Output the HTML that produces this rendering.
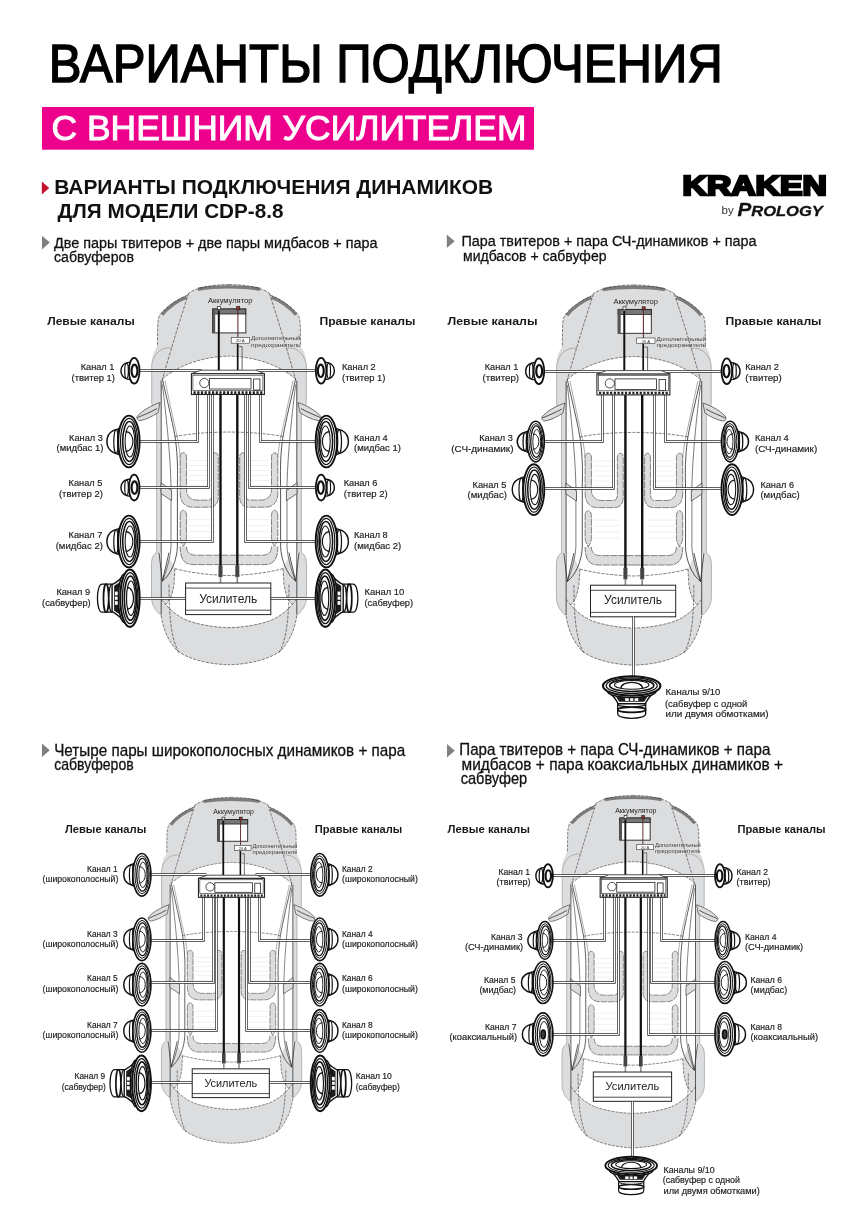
<!DOCTYPE html>
<html lang="ru"><head><meta charset="utf-8"><title>Варианты подключения</title>
<style>
html,body{margin:0;padding:0;background:#fff;}
body{width:868px;height:1228px;overflow:hidden;position:relative;font-family:"Liberation Sans",sans-serif;}
svg{position:absolute;left:0;top:0;display:block;will-change:transform;}
text{font-family:"Liberation Sans",sans-serif;fill:#111;}
.b{font-weight:bold;}
.sh{font-size:15.4px;stroke:#111;stroke-width:0.3px;}
.lb{font-size:9.8px;fill:#1c1c1c;stroke:#1c1c1c;stroke-width:0.18px;}
.ch{font-size:11.6px;font-weight:bold;fill:#1a1a1a;}
</style></head><body>
<svg width="868" height="1228" viewBox="0 0 868 1228">
<text x="48.8" y="81.8" style="font-size:54.5px;fill:#000;stroke:#000;stroke-width:1.5px;" textLength="674" lengthAdjust="spacingAndGlyphs">ВАРИАНТЫ ПОДКЛЮЧЕНИЯ</text>
<rect x="42" y="107" width="492" height="42.7" fill="#ec008c"/>
<text x="51.5" y="140" style="font-size:35.8px;fill:#fff;stroke:#fff;stroke-width:1.0px;" textLength="475" lengthAdjust="spacingAndGlyphs">С ВНЕШНИМ УСИЛИТЕЛЕМ</text>
<path d="M41.8 181.6 L49.2 188 L41.8 194.4 Z" fill="#c4122f"/>
<text x="54.2" y="194.2" class="b" style="font-size:20.3px;" textLength="439" lengthAdjust="spacingAndGlyphs">ВАРИАНТЫ ПОДКЛЮЧЕНИЯ ДИНАМИКОВ</text>
<text x="57.5" y="217.5" class="b" style="font-size:20.3px;" textLength="226" lengthAdjust="spacingAndGlyphs">ДЛЯ МОДЕЛИ CDP-8.8</text>
<text x="682.6" y="195.2" class="b" style="font-size:27px;fill:#000;stroke:#000;stroke-width:2.4px;stroke-linejoin:miter;" textLength="144.2" lengthAdjust="spacingAndGlyphs">KRAKEN</text>
<text x="721.6" y="214" style="font-size:11.5px;fill:#333;">by</text>
<text x="737.4" y="216.2" style="font-size:15.2px;fill:#111;font-style:italic;font-weight:bold;stroke:#111;stroke-width:0.3px;" textLength="85.5" lengthAdjust="spacingAndGlyphs"><tspan style="font-size:19px">P</tspan>ROLOGY</text>
<path d="M42 235.8 L49.8 242.60000000000002 L42 249.4 Z" fill="#808080"/>
<text x="54" y="247.5" class="sh" textLength="323.5" lengthAdjust="spacingAndGlyphs">Две пары твитеров + две пары мидбасов + пара</text>
<text x="54" y="262" class="sh" textLength="80" lengthAdjust="spacingAndGlyphs">сабвуферов</text>
<path d="M446.8 234.5 L454.6 241.3 L446.8 248.1 Z" fill="#808080"/>
<text x="461.5" y="246" class="sh" textLength="295" lengthAdjust="spacingAndGlyphs">Пара твитеров + пара СЧ-динамиков + пара</text>
<text x="463" y="260.5" class="sh" textLength="143.5" lengthAdjust="spacingAndGlyphs">мидбасов + сабвуфер</text>
<path d="M42 743.5 L49.8 750.3 L42 757.1 Z" fill="#808080"/>
<text x="54.2" y="755.6" class="sh" style="font-size:16.2px;" textLength="351" lengthAdjust="spacingAndGlyphs">Четыре пары широкополосных динамиков + пара</text>
<text x="54.2" y="769.8" class="sh" style="font-size:16.2px;" textLength="79.5" lengthAdjust="spacingAndGlyphs">сабвуферов</text>
<path d="M447 744 L454.8 750.8 L447 757.6 Z" fill="#808080"/>
<text x="459.3" y="754.8" class="sh" style="font-size:16.2px;" textLength="311" lengthAdjust="spacingAndGlyphs">Пара твитеров + пара СЧ-динамиков + пара</text>
<text x="461.6" y="769.6" class="sh" style="font-size:16.2px;" textLength="321.5" lengthAdjust="spacingAndGlyphs">мидбасов + пара коаксиальных динамиков +</text>
<text x="460.7" y="784.3" class="sh" style="font-size:16.2px;" textLength="66.5" lengthAdjust="spacingAndGlyphs">сабвуфер</text>
<text x="47.2" y="325.1" class="ch" textLength="87.5" lengthAdjust="spacingAndGlyphs">Левые каналы</text>
<text x="319.4" y="325.1" class="ch" textLength="96" lengthAdjust="spacingAndGlyphs">Правые каналы</text>
<g transform="translate(229 284.6) scale(1.0 1.0)"><path d="M0 0 C-14 0 -30 2 -40.2 8.3 L-41.5 10.6 C-50 13.6 -62 21 -68.8 29.8 C-70.6 32.5 -71.2 36 -71.3 42 L-71.6 62 C-75 66 -77.3 72 -77.3 80 L-77.3 118 C-77.3 122 -75 124 -72.4 125 L-72.4 268 C-76 270 -77.5 274 -77.5 280 L-77.5 312 C-77.5 322 -72 327 -67.8 331 C-66 343 -62 355 -52 366 C-40 375 -20 379.6 0 380.2  L0.4 380.2 L0.4 0 Z" fill="#dcdddf" stroke="none"/><g transform="scale(-1,1)"><path d="M0 0 C-14 0 -30 2 -40.2 8.3 L-41.5 10.6 C-50 13.6 -62 21 -68.8 29.8 C-70.6 32.5 -71.2 36 -71.3 42 L-71.6 62 C-75 66 -77.3 72 -77.3 80 L-77.3 118 C-77.3 122 -75 124 -72.4 125 L-72.4 268 C-76 270 -77.5 274 -77.5 280 L-77.5 312 C-77.5 322 -72 327 -67.8 331 C-66 343 -62 355 -52 366 C-40 375 -20 379.6 0 380.2  L0.4 380.2 L0.4 0 Z" fill="#dcdddf" stroke="none"/></g><path d="M0 71.5 C-25 72 -50 80 -66.6 94.5 L-67.8 125 L-67.8 268 L-70 268 L-66.6 296 L-60 272 L-54 284 C-40 288 -20 290.5 0 291 L0.4 291 L0.4 71.5 Z" fill="#fff"/><g transform="scale(-1,1)"><path d="M0 71.5 C-25 72 -50 80 -66.6 94.5 L-67.8 125 L-67.8 268 L-70 268 L-66.6 296 L-60 272 L-54 284 C-40 288 -20 290.5 0 291 L0.4 291 L0.4 71.5 Z" fill="#fff"/></g><path d="M0 291 C-20 290.5 -40 288 -54 284 L-55 300 C-57 312 -60 318 -64 320 L-67.8 314.4 C-60 325 -50 333 -40 336.5 C-28 340.5 -12 343 0 343 L0.4 343 L0.4 291 Z" fill="#fff"/><g transform="scale(-1,1)"><path d="M0 291 C-20 290.5 -40 288 -54 284 L-55 300 C-57 312 -60 318 -64 320 L-67.8 314.4 C-60 325 -50 333 -40 336.5 C-28 340.5 -12 343 0 343 L0.4 343 L0.4 291 Z" fill="#fff"/></g><path d="M-70 268 L-66.6 296.5 L-60 268 Z" fill="#fff"/><g transform="scale(-1,1)"><path d="M-70 268 L-66.6 296.5 L-60 268 Z" fill="#fff"/></g><path d="M-67 30.2 C-61 22.3 -50 15.4 -42.5 12.6" fill="none" stroke="#7c7c7c" stroke-width="3.2"/><path d="M-31 4.6 C-20 2.7 -10 2.3 0.3 2.3" fill="none" stroke="#7c7c7c" stroke-width="3.4"/><g transform="scale(-1,1)"><path d="M-67 30.2 C-61 22.3 -50 15.4 -42.5 12.6" fill="none" stroke="#7c7c7c" stroke-width="3.2"/><path d="M-31 4.6 C-20 2.7 -10 2.3 0.3 2.3" fill="none" stroke="#7c7c7c" stroke-width="3.4"/></g><path d="M0 0 C-14 0 -30 2 -40.2 8.3 L-41.5 10.6 C-50 13.6 -62 21 -68.8 29.8 C-70.6 32.5 -71.2 36 -71.3 42 L-71.6 62" fill="none" stroke="#1e1e1e" stroke-width="0.55" stroke-dasharray="3.2 1.2"/><path d="M-57 63.4 C-66 62.5 -74 66 -77.3 80" fill="none" stroke="#8a8a8a" stroke-width="0.6"/><path d="M-77.3 80 L-77.3 118 C-77.3 122 -75 124 -72.4 125 L-72.4 268" fill="none" stroke="#8a8a8a" stroke-width="0.6"/><path d="M-67.8 96 L-67.8 330" fill="none" stroke="#2a2a2a" stroke-width="0.8"/><path d="M-40.5 9 C-49 35 -58 65 -66.6 94.5" fill="none" stroke="#1e1e1e" stroke-width="0.55" stroke-dasharray="3.2 1.2"/><path d="M-66.6 94.5 C-50 80 -25 72 0 71.5" fill="none" stroke="#1e1e1e" stroke-width="0.55" stroke-dasharray="3.2 1.2"/><path d="M-66.6 94.5 C-62 115 -57 135 -54 152 C-52 165 -51 180 -51.6 200 L-51.6 262 C-52 275 -58 290 -66.6 296.5" fill="none" stroke="#2a2a2a" stroke-width="0.8"/><path d="M-64 96 C-60 115 -55 138 -51 156 C-48.5 170 -47.5 185 -47.5 200" fill="none" stroke="#666" stroke-width="0.55"/><path d="M-66.6 100 C-63 130 -59 165 -58 200 L-58 262 C-58.5 272 -62 285 -66.6 296.5" fill="none" stroke="#333" stroke-width="0.65"/><path d="M-54 152 C-40 149 -20 147.6 0 147.4" fill="none" stroke="#1e1e1e" stroke-width="0.55" stroke-dasharray="3.2 1.2"/><path d="M-68 198 L-57.4 206 L-57.4 216 L-68 209 Z" fill="#dcdddf" stroke="#3a3a3a" stroke-width="0.7"/><path d="M-72.4 268 C-76 270 -77.5 274 -77.5 280 L-77.5 312 C-77.5 322 -72 327 -67.8 331" fill="none" stroke="#8a8a8a" stroke-width="0.6"/><path d="M-67.8 331 C-66 343 -62 355 -52 366 C-40 375 -20 379.6 0 380.2" fill="none" stroke="#1e1e1e" stroke-width="0.55" stroke-dasharray="3.2 1.2"/><path d="M-60 300 C-60 330 -58 355 -50 368" fill="none" stroke="#1e1e1e" stroke-width="0.55" stroke-dasharray="3.2 1.2"/><path d="M-67.8 314.4 C-60 325 -50 333 -40 336.5 C-28 340.5 -12 343 0 343" fill="none" stroke="#1e1e1e" stroke-width="0.55" stroke-dasharray="3.2 1.2"/><path d="M-54 284 C-40 288 -20 290.5 0 291" fill="none" stroke="#1e1e1e" stroke-width="0.55" stroke-dasharray="3.2 1.2"/><path d="M-70 268 L-66.6 296.5 L-60 268" fill="none" stroke="#2a2a2a" stroke-width="0.8"/><path d="M-54 284 L-55 300 C-57 312 -60 318 -64 320" fill="none" stroke="#1e1e1e" stroke-width="0.55" stroke-dasharray="3.2 1.2"/><path d="M-69 118 C-78 121 -87 126 -92 132 C-92.5 134.5 -91 136 -89 136 C-83 135 -77 132 -71 128 Z" fill="#dcdddf" stroke="#3a3a3a" stroke-width="0.7"/><path d="M-91.5 133 C-85 130 -79 128 -72 124" fill="none" stroke="#2a2a2a" stroke-width="0.8"/><path d="M-48.8 172 C-48.8 167 -42.5 167 -42.5 172 L-42.5 205 C-42.5 212 -38 215.5 -32 215.5 L-21 215.5 C-17.5 215.5 -16.5 213 -16.5 208 L-16.5 172 C-16.5 167 -10.7 167 -10.7 172 L-10.7 212 C-10.7 219 -14 222.6 -20 222.6 L-36 222.6 C-44 222.6 -48.8 218 -48.8 208 Z" fill="#dcdddf" stroke="#3a3a3a" stroke-width="0.6" stroke-dasharray="7 1"/><path d="M-48.8 231 C-48.8 224 -42.5 224 -42.5 231 L-42.5 252 C-42.5 257 -44 259 -45.6 262 C-47 259 -48.8 257 -48.8 252 Z" fill="#dcdddf" stroke="#3a3a3a" stroke-width="0.6" stroke-dasharray="7 1"/><path d="M-48.8 262 L-42.5 262 C-42.5 268 -39 270.6 -33 270.6 L0.4 270.6 L0.4 280 L-36 280 C-44 280 -48.8 275 -48.8 268 Z" fill="#dcdddf" stroke="none"/><path d="M-42.5 262 C-42.5 268 -39 270.6 -33 270.6 L0 270.6 M0 280 L-36 280 C-44 280 -48.8 275 -48.8 262" fill="none" stroke="#3a3a3a" stroke-width="0.6" stroke-dasharray="7 1"/><path d="M-40 176 L-18 176 M-40 181 L-18 181 M-40 186 L-18 186 M-40 191 L-18 191 M-40 196 L-18 196 M-40 201 L-18 201 M-40 235 L-14 235 M-40 241 L-14 241 M-40 247 L-14 247 M-40 253 L-14 253" fill="none" stroke="#e4e4e4" stroke-width="0.6"/><g transform="scale(-1,1)"><path d="M0 0 C-14 0 -30 2 -40.2 8.3 L-41.5 10.6 C-50 13.6 -62 21 -68.8 29.8 C-70.6 32.5 -71.2 36 -71.3 42 L-71.6 62" fill="none" stroke="#1e1e1e" stroke-width="0.55" stroke-dasharray="3.2 1.2"/><path d="M-57 63.4 C-66 62.5 -74 66 -77.3 80" fill="none" stroke="#8a8a8a" stroke-width="0.6"/><path d="M-77.3 80 L-77.3 118 C-77.3 122 -75 124 -72.4 125 L-72.4 268" fill="none" stroke="#8a8a8a" stroke-width="0.6"/><path d="M-67.8 96 L-67.8 330" fill="none" stroke="#2a2a2a" stroke-width="0.8"/><path d="M-40.5 9 C-49 35 -58 65 -66.6 94.5" fill="none" stroke="#1e1e1e" stroke-width="0.55" stroke-dasharray="3.2 1.2"/><path d="M-66.6 94.5 C-50 80 -25 72 0 71.5" fill="none" stroke="#1e1e1e" stroke-width="0.55" stroke-dasharray="3.2 1.2"/><path d="M-66.6 94.5 C-62 115 -57 135 -54 152 C-52 165 -51 180 -51.6 200 L-51.6 262 C-52 275 -58 290 -66.6 296.5" fill="none" stroke="#2a2a2a" stroke-width="0.8"/><path d="M-64 96 C-60 115 -55 138 -51 156 C-48.5 170 -47.5 185 -47.5 200" fill="none" stroke="#666" stroke-width="0.55"/><path d="M-66.6 100 C-63 130 -59 165 -58 200 L-58 262 C-58.5 272 -62 285 -66.6 296.5" fill="none" stroke="#333" stroke-width="0.65"/><path d="M-54 152 C-40 149 -20 147.6 0 147.4" fill="none" stroke="#1e1e1e" stroke-width="0.55" stroke-dasharray="3.2 1.2"/><path d="M-68 198 L-57.4 206 L-57.4 216 L-68 209 Z" fill="#dcdddf" stroke="#3a3a3a" stroke-width="0.7"/><path d="M-72.4 268 C-76 270 -77.5 274 -77.5 280 L-77.5 312 C-77.5 322 -72 327 -67.8 331" fill="none" stroke="#8a8a8a" stroke-width="0.6"/><path d="M-67.8 331 C-66 343 -62 355 -52 366 C-40 375 -20 379.6 0 380.2" fill="none" stroke="#1e1e1e" stroke-width="0.55" stroke-dasharray="3.2 1.2"/><path d="M-60 300 C-60 330 -58 355 -50 368" fill="none" stroke="#1e1e1e" stroke-width="0.55" stroke-dasharray="3.2 1.2"/><path d="M-67.8 314.4 C-60 325 -50 333 -40 336.5 C-28 340.5 -12 343 0 343" fill="none" stroke="#1e1e1e" stroke-width="0.55" stroke-dasharray="3.2 1.2"/><path d="M-54 284 C-40 288 -20 290.5 0 291" fill="none" stroke="#1e1e1e" stroke-width="0.55" stroke-dasharray="3.2 1.2"/><path d="M-70 268 L-66.6 296.5 L-60 268" fill="none" stroke="#2a2a2a" stroke-width="0.8"/><path d="M-54 284 L-55 300 C-57 312 -60 318 -64 320" fill="none" stroke="#1e1e1e" stroke-width="0.55" stroke-dasharray="3.2 1.2"/><path d="M-69 118 C-78 121 -87 126 -92 132 C-92.5 134.5 -91 136 -89 136 C-83 135 -77 132 -71 128 Z" fill="#dcdddf" stroke="#3a3a3a" stroke-width="0.7"/><path d="M-91.5 133 C-85 130 -79 128 -72 124" fill="none" stroke="#2a2a2a" stroke-width="0.8"/><path d="M-48.8 172 C-48.8 167 -42.5 167 -42.5 172 L-42.5 205 C-42.5 212 -38 215.5 -32 215.5 L-21 215.5 C-17.5 215.5 -16.5 213 -16.5 208 L-16.5 172 C-16.5 167 -10.7 167 -10.7 172 L-10.7 212 C-10.7 219 -14 222.6 -20 222.6 L-36 222.6 C-44 222.6 -48.8 218 -48.8 208 Z" fill="#dcdddf" stroke="#3a3a3a" stroke-width="0.6" stroke-dasharray="7 1"/><path d="M-48.8 231 C-48.8 224 -42.5 224 -42.5 231 L-42.5 252 C-42.5 257 -44 259 -45.6 262 C-47 259 -48.8 257 -48.8 252 Z" fill="#dcdddf" stroke="#3a3a3a" stroke-width="0.6" stroke-dasharray="7 1"/><path d="M-48.8 262 L-42.5 262 C-42.5 268 -39 270.6 -33 270.6 L0.4 270.6 L0.4 280 L-36 280 C-44 280 -48.8 275 -48.8 268 Z" fill="#dcdddf" stroke="none"/><path d="M-42.5 262 C-42.5 268 -39 270.6 -33 270.6 L0 270.6 M0 280 L-36 280 C-44 280 -48.8 275 -48.8 262" fill="none" stroke="#3a3a3a" stroke-width="0.6" stroke-dasharray="7 1"/><path d="M-40 176 L-18 176 M-40 181 L-18 181 M-40 186 L-18 186 M-40 191 L-18 191 M-40 196 L-18 196 M-40 201 L-18 201 M-40 235 L-14 235 M-40 241 L-14 241 M-40 247 L-14 247 M-40 253 L-14 253" fill="none" stroke="#e4e4e4" stroke-width="0.6"/></g></g>
<path d="M139.5 370.5 L201.5 370.5" fill="none" stroke="#2e2e2e" stroke-width="2.4"/><path d="M139.5 370.5 L201.5 370.5" fill="none" stroke="#fff" stroke-width="1"/>
<path d="M139.5 441.5 L197.5 441.5 L197.5 394.5" fill="none" stroke="#2e2e2e" stroke-width="2.4"/><path d="M139.5 441.5 L197.5 441.5 L197.5 394.5" fill="none" stroke="#fff" stroke-width="1"/>
<path d="M139.5 487.5 L208.5 487.5 L208.5 394.5" fill="none" stroke="#2e2e2e" stroke-width="2.4"/><path d="M139.5 487.5 L208.5 487.5 L208.5 394.5" fill="none" stroke="#fff" stroke-width="1"/>
<path d="M139.5 541.5 L212.5 541.5 L212.5 394.5" fill="none" stroke="#2e2e2e" stroke-width="2.4"/><path d="M139.5 541.5 L212.5 541.5 L212.5 394.5" fill="none" stroke="#fff" stroke-width="1"/>
<path d="M139.5 598.5 L185.5 598.5" fill="none" stroke="#2e2e2e" stroke-width="2.4"/><path d="M139.5 598.5 L185.5 598.5" fill="none" stroke="#fff" stroke-width="1"/>
<path d="M315.5 370.5 L256.5 370.5" fill="none" stroke="#2e2e2e" stroke-width="2.4"/><path d="M315.5 370.5 L256.5 370.5" fill="none" stroke="#fff" stroke-width="1"/>
<path d="M315.5 441.5 L260.5 441.5 L260.5 394.5" fill="none" stroke="#2e2e2e" stroke-width="2.4"/><path d="M315.5 441.5 L260.5 441.5 L260.5 394.5" fill="none" stroke="#fff" stroke-width="1"/>
<path d="M315.5 487.5 L249.5 487.5 L249.5 394.5" fill="none" stroke="#2e2e2e" stroke-width="2.4"/><path d="M315.5 487.5 L249.5 487.5 L249.5 394.5" fill="none" stroke="#fff" stroke-width="1"/>
<path d="M315.5 541.5 L245.5 541.5 L245.5 394.5" fill="none" stroke="#2e2e2e" stroke-width="2.4"/><path d="M315.5 541.5 L245.5 541.5 L245.5 394.5" fill="none" stroke="#fff" stroke-width="1"/>
<path d="M315.5 598.5 L270.5 598.5" fill="none" stroke="#2e2e2e" stroke-width="2.4"/><path d="M315.5 598.5 L270.5 598.5" fill="none" stroke="#fff" stroke-width="1"/>
<path d="M220.5 394.5 L220.5 567.6" stroke="#111" stroke-width="2.40" fill="none"/><path d="M220.5 565.6 L220.5 577.1" stroke="#444" stroke-width="4.00" fill="none"/><path d="M220.5 576.6 L220.5 583.0" stroke="#888" stroke-width="1.60" fill="none"/>
<path d="M237.3 394.5 L237.3 567.6" stroke="#111" stroke-width="2.40" fill="none"/><path d="M237.3 565.6 L237.3 577.1" stroke="#444" stroke-width="4.00" fill="none"/><path d="M237.3 576.6 L237.3 583.0" stroke="#888" stroke-width="1.60" fill="none"/>
<rect x="212.6" y="309.0" width="33.20" height="23.90" fill="#fff" stroke="#222" stroke-width="0.9"/><rect x="212.6" y="309.0" width="33.20" height="5.00" fill="#777" stroke="#222" stroke-width="0.8"/><rect x="212.6" y="309.0" width="2.60" height="23.90" fill="#555" stroke="none"/><rect x="217.5" y="306.4" width="3.00" height="3.00" fill="#fff" stroke="#222" stroke-width="0.7"/><rect x="236.7" y="306.4" width="3.00" height="3.00" fill="#a33" stroke="#222" stroke-width="0.7"/>
<text x="230.2" y="303.4" text-anchor="middle" style="font-size:7.6px;fill:#222;" textLength="44.6" lengthAdjust="spacingAndGlyphs">Аккумулятор</text>
<path d="M218.8 310.6 L218.8 370.2" stroke="#111" stroke-width="2.00" fill="none"/><path d="M237.9 309.6 L237.9 337.6" stroke="#522" stroke-width="1.00" fill="none"/><path d="M237.7 343.2 L237.7 370.2" stroke="#111" stroke-width="1.70" fill="none"/><path d="M238.7 346.6 L242.1 346.6 L242.1 370.2" stroke="#666" stroke-width="1.00" fill="none"/>
<rect x="231.2" y="337.6" width="18.30" height="5.60" fill="#fff" stroke="#333" stroke-width="0.6"/><text x="240.3" y="342.2" text-anchor="middle" style="font-size:4.4px;fill:#333;">20 A</text>
<text x="251.0" y="340.2" style="font-size:5.6px;fill:#444;" textLength="49.5" lengthAdjust="spacingAndGlyphs">Дополнительный</text>
<text x="251.0" y="346.8" style="font-size:5.6px;fill:#444;" textLength="49.5" lengthAdjust="spacingAndGlyphs">предохранитель</text>
<path d="M201.0 370.2 L256.0 370.2 L264.4 373.7 L191.4 373.7 Z" fill="#fff" stroke="#222" stroke-width="0.8"/><rect x="191.4" y="373.7" width="73.00" height="20.80" fill="#fff" stroke="#222" stroke-width="1.1"/><rect x="192.9" y="375.2" width="70.00" height="15.20" fill="none" stroke="#222" stroke-width="0.6"/><circle cx="204.3" cy="383.0" r="4.60" fill="#fff" stroke="#222" stroke-width="0.8"/><rect x="209.5" y="378.5" width="41.50" height="10.50" fill="#fff" stroke="#222" stroke-width="0.8"/><rect x="253.6" y="379.0" width="6.30" height="11.00" fill="#fff" stroke="#222" stroke-width="0.8"/><path d="M193.5 392.6 L262.5 392.6" stroke="#222" stroke-width="2.60" stroke-dasharray="2.20 1.50" fill="none"/>
<rect x="185.6" y="583.0" width="85.20" height="31.60" fill="#fff" stroke="#222" stroke-width="1"/><path d="M185.6 588.1 L270.8 588.1 M185.6 610.2 L270.8 610.2" stroke="#222" stroke-width="0.8" fill="none"/><text x="228.2" y="602.6" text-anchor="middle" style="font-size:12.4px;fill:#222;" textLength="58.0" lengthAdjust="spacingAndGlyphs">Усилитель</text>
<g transform="translate(134.2 370.8) rotate(0) scale(1.0 1.0)" fill="#fff" stroke="#111"><path d="M-2 -8.6 C-7.26 -9.03 -13.2 -6.88 -13.2 0 C-13.2 6.88 -7.26 9.03 -2 8.6 Z" stroke-width="1.45"/><ellipse cx="-7.66" cy="0" rx="1.80" ry="7.74" stroke-width="1.2" fill="none"/><ellipse cx="0" cy="0" rx="5.3" ry="12.9" stroke-width="1.8"/><ellipse cx="0.3" cy="0" rx="2.97" ry="6.19" stroke-width="2.2"/></g>
<text x="114.4" y="369.8" text-anchor="end" class="lb" style="font-size:9.8px;" textLength="33.7" lengthAdjust="spacingAndGlyphs">Канал 1</text>
<text x="115.0" y="380.7" text-anchor="end" class="lb" style="font-size:9.8px;" textLength="43.5" lengthAdjust="spacingAndGlyphs">(твитер 1)</text>
<g transform="translate(128.9 441.5) rotate(0) scale(1.0 1.0)" fill="#fff" stroke="#111"><path d="M-2 -13.2 C-12.100000000000001 -13.86 -22.0 -10.56 -22.0 0 C-22.0 10.56 -12.100000000000001 13.86 -2 13.2 Z" stroke-width="1.45"/><ellipse cx="-12.76" cy="0" rx="2.35" ry="11.88" stroke-width="1.2" fill="none"/><ellipse cx="-7.92" cy="0" rx="3.2099999999999995" ry="14.784" stroke-width="1.5" fill="#2a2a2a"/><ellipse cx="0" cy="0" rx="10.7" ry="25.9" stroke-width="1.93"/><ellipse cx="0.2" cy="0" rx="8.56" ry="23.05" stroke-width="1.16" fill="none"/><ellipse cx="0.5" cy="0" rx="6.74" ry="19.94" stroke-width="1.55" fill="none"/><ellipse cx="1.0" cy="0" rx="4.81" ry="15.54" stroke-width="1.06" fill="none"/><path d="M-3.21 -9.84 C6.42 -9.84 6.42 9.84 -3.21 9.84" stroke-width="1.16" fill="none"/></g>
<text x="102.8" y="440.5" text-anchor="end" class="lb" style="font-size:9.8px;" textLength="33.7" lengthAdjust="spacingAndGlyphs">Канал 3</text>
<text x="103.39999999999999" y="451.4" text-anchor="end" class="lb" style="font-size:9.8px;" textLength="46.9" lengthAdjust="spacingAndGlyphs">(мидбас 1)</text>
<g transform="translate(134.2 487.6) rotate(0) scale(1.0 1.0)" fill="#fff" stroke="#111"><path d="M-2 -8.6 C-7.26 -9.03 -13.2 -6.88 -13.2 0 C-13.2 6.88 -7.26 9.03 -2 8.6 Z" stroke-width="1.45"/><ellipse cx="-7.66" cy="0" rx="1.80" ry="7.74" stroke-width="1.2" fill="none"/><ellipse cx="0" cy="0" rx="5.3" ry="12.9" stroke-width="1.8"/><ellipse cx="0.3" cy="0" rx="2.97" ry="6.19" stroke-width="2.2"/></g>
<text x="102.3" y="485.9" text-anchor="end" class="lb" style="font-size:9.8px;" textLength="33.7" lengthAdjust="spacingAndGlyphs">Канал 5</text>
<text x="102.89999999999999" y="496.8" text-anchor="end" class="lb" style="font-size:9.8px;" textLength="44.0" lengthAdjust="spacingAndGlyphs">(твитер 2)</text>
<g transform="translate(128.9 541.5) rotate(0) scale(1.0 1.0)" fill="#fff" stroke="#111"><path d="M-2 -13.2 C-12.100000000000001 -13.86 -22.0 -10.56 -22.0 0 C-22.0 10.56 -12.100000000000001 13.86 -2 13.2 Z" stroke-width="1.45"/><ellipse cx="-12.76" cy="0" rx="2.35" ry="11.88" stroke-width="1.2" fill="none"/><ellipse cx="-7.92" cy="0" rx="3.2099999999999995" ry="14.784" stroke-width="1.5" fill="#2a2a2a"/><ellipse cx="0" cy="0" rx="10.7" ry="25.9" stroke-width="1.93"/><ellipse cx="0.2" cy="0" rx="8.56" ry="23.05" stroke-width="1.16" fill="none"/><ellipse cx="0.5" cy="0" rx="6.74" ry="19.94" stroke-width="1.55" fill="none"/><ellipse cx="1.0" cy="0" rx="4.81" ry="15.54" stroke-width="1.06" fill="none"/><path d="M-3.21 -9.84 C6.42 -9.84 6.42 9.84 -3.21 9.84" stroke-width="1.16" fill="none"/></g>
<text x="102.3" y="538.1" text-anchor="end" class="lb" style="font-size:9.8px;" textLength="33.7" lengthAdjust="spacingAndGlyphs">Канал 7</text>
<text x="102.89999999999999" y="549.0" text-anchor="end" class="lb" style="font-size:9.8px;" textLength="47.2" lengthAdjust="spacingAndGlyphs">(мидбас 2)</text>
<g transform="translate(129.9 598.2) rotate(0) scale(1.0 1.0)" fill="#fff" stroke="#111"><path d="M-27.799999999999997 -14.0 C-34.0 -14.0 -34.0 14.0 -27.799999999999997 14.0 L-17.799999999999997 14.0 L-17.799999999999997 -14.0 Z" stroke-width="1.3"/><ellipse cx="-23.799999999999997" cy="0" rx="2.6" ry="14.0" stroke-width="1.7" fill="none"/><ellipse cx="-18.299999999999997" cy="0" rx="2.6" ry="13.7" stroke-width="1.1"/><path d="M-17.799999999999997 -13.5 C-12.799999999999997 -16.0 -8 -20.09 -3 -26.691000000000003 L-3 26.691000000000003 C-8 20.09 -12.799999999999997 16.0 -17.799999999999997 13.5 Z" stroke-width="1.4"/><path d="M-15.799999999999997 -12.5 L-10.299999999999997 -16.0 L-10.299999999999997 16.0 L-15.799999999999997 12.5 Z" stroke="none" fill="#1c1c1c"/><rect x="-14.999999999999996" y="-6.6" width="4" height="3.7" stroke="none" fill="#fff"/><rect x="-14.999999999999996" y="-1.6" width="4" height="3.2" stroke="none" fill="#fff"/><rect x="-14.999999999999996" y="2.9" width="4" height="3.7" stroke="none" fill="#fff"/><ellipse cx="-5.5" cy="0" rx="6.013999999999999" ry="24.107999999999997" stroke-width="1.5" fill="#fff"/><ellipse cx="0" cy="0" rx="9.7" ry="28.7" stroke-width="2.10"/><ellipse cx="0.2" cy="0" rx="7.76" ry="25.54" stroke-width="1.26" fill="none"/><ellipse cx="0.5" cy="0" rx="6.11" ry="22.10" stroke-width="1.68" fill="none"/><ellipse cx="1.0" cy="0" rx="4.37" ry="17.22" stroke-width="1.16" fill="none"/><path d="M-2.91 -10.91 C5.82 -10.91 5.82 10.91 -2.91 10.91" stroke-width="1.26" fill="none"/></g>
<text x="90.1" y="595.0" text-anchor="end" class="lb" style="font-size:9.8px;" textLength="33.7" lengthAdjust="spacingAndGlyphs">Канал 9</text>
<text x="90.69999999999999" y="605.9" text-anchor="end" class="lb" style="font-size:9.8px;" textLength="48.6" lengthAdjust="spacingAndGlyphs">(сабвуфер)</text>
<g transform="translate(321.1 370.8) rotate(0) scale(-1.0 1.0)" fill="#fff" stroke="#111"><path d="M-2 -8.6 C-7.26 -9.03 -13.2 -6.88 -13.2 0 C-13.2 6.88 -7.26 9.03 -2 8.6 Z" stroke-width="1.45"/><ellipse cx="-7.66" cy="0" rx="1.80" ry="7.74" stroke-width="1.2" fill="none"/><ellipse cx="0" cy="0" rx="5.3" ry="12.9" stroke-width="1.8"/><ellipse cx="0.3" cy="0" rx="2.97" ry="6.19" stroke-width="2.2"/></g>
<text x="342" y="369.8" class="lb" style="font-size:9.8px;" textLength="33.7" lengthAdjust="spacingAndGlyphs">Канал 2</text>
<text x="342" y="380.7" class="lb" style="font-size:9.8px;" textLength="43.5" lengthAdjust="spacingAndGlyphs">(твитер 1)</text>
<g transform="translate(326.4 441.5) rotate(0) scale(-1.0 1.0)" fill="#fff" stroke="#111"><path d="M-2 -13.2 C-12.100000000000001 -13.86 -22.0 -10.56 -22.0 0 C-22.0 10.56 -12.100000000000001 13.86 -2 13.2 Z" stroke-width="1.45"/><ellipse cx="-12.76" cy="0" rx="2.35" ry="11.88" stroke-width="1.2" fill="none"/><ellipse cx="-7.92" cy="0" rx="3.2099999999999995" ry="14.784" stroke-width="1.5" fill="#2a2a2a"/><ellipse cx="0" cy="0" rx="10.7" ry="25.9" stroke-width="1.93"/><ellipse cx="0.2" cy="0" rx="8.56" ry="23.05" stroke-width="1.16" fill="none"/><ellipse cx="0.5" cy="0" rx="6.74" ry="19.94" stroke-width="1.55" fill="none"/><ellipse cx="1.0" cy="0" rx="4.81" ry="15.54" stroke-width="1.06" fill="none"/><path d="M-3.21 -9.84 C6.42 -9.84 6.42 9.84 -3.21 9.84" stroke-width="1.16" fill="none"/></g>
<text x="354" y="440.5" class="lb" style="font-size:9.8px;" textLength="33.7" lengthAdjust="spacingAndGlyphs">Канал 4</text>
<text x="354" y="451.4" class="lb" style="font-size:9.8px;" textLength="46.9" lengthAdjust="spacingAndGlyphs">(мидбас 1)</text>
<g transform="translate(321.1 487.6) rotate(0) scale(-1.0 1.0)" fill="#fff" stroke="#111"><path d="M-2 -8.6 C-7.26 -9.03 -13.2 -6.88 -13.2 0 C-13.2 6.88 -7.26 9.03 -2 8.6 Z" stroke-width="1.45"/><ellipse cx="-7.66" cy="0" rx="1.80" ry="7.74" stroke-width="1.2" fill="none"/><ellipse cx="0" cy="0" rx="5.3" ry="12.9" stroke-width="1.8"/><ellipse cx="0.3" cy="0" rx="2.97" ry="6.19" stroke-width="2.2"/></g>
<text x="343.7" y="485.9" class="lb" style="font-size:9.8px;" textLength="33.7" lengthAdjust="spacingAndGlyphs">Канал 6</text>
<text x="343.7" y="496.8" class="lb" style="font-size:9.8px;" textLength="44.0" lengthAdjust="spacingAndGlyphs">(твитер 2)</text>
<g transform="translate(326.4 541.5) rotate(0) scale(-1.0 1.0)" fill="#fff" stroke="#111"><path d="M-2 -13.2 C-12.100000000000001 -13.86 -22.0 -10.56 -22.0 0 C-22.0 10.56 -12.100000000000001 13.86 -2 13.2 Z" stroke-width="1.45"/><ellipse cx="-12.76" cy="0" rx="2.35" ry="11.88" stroke-width="1.2" fill="none"/><ellipse cx="-7.92" cy="0" rx="3.2099999999999995" ry="14.784" stroke-width="1.5" fill="#2a2a2a"/><ellipse cx="0" cy="0" rx="10.7" ry="25.9" stroke-width="1.93"/><ellipse cx="0.2" cy="0" rx="8.56" ry="23.05" stroke-width="1.16" fill="none"/><ellipse cx="0.5" cy="0" rx="6.74" ry="19.94" stroke-width="1.55" fill="none"/><ellipse cx="1.0" cy="0" rx="4.81" ry="15.54" stroke-width="1.06" fill="none"/><path d="M-3.21 -9.84 C6.42 -9.84 6.42 9.84 -3.21 9.84" stroke-width="1.16" fill="none"/></g>
<text x="354" y="538.1" class="lb" style="font-size:9.8px;" textLength="33.7" lengthAdjust="spacingAndGlyphs">Канал 8</text>
<text x="354" y="549.0" class="lb" style="font-size:9.8px;" textLength="47.2" lengthAdjust="spacingAndGlyphs">(мидбас 2)</text>
<g transform="translate(325.4 598.2) rotate(0) scale(-1.0 1.0)" fill="#fff" stroke="#111"><path d="M-27.799999999999997 -14.0 C-34.0 -14.0 -34.0 14.0 -27.799999999999997 14.0 L-17.799999999999997 14.0 L-17.799999999999997 -14.0 Z" stroke-width="1.3"/><ellipse cx="-23.799999999999997" cy="0" rx="2.6" ry="14.0" stroke-width="1.7" fill="none"/><ellipse cx="-18.299999999999997" cy="0" rx="2.6" ry="13.7" stroke-width="1.1"/><path d="M-17.799999999999997 -13.5 C-12.799999999999997 -16.0 -8 -20.09 -3 -26.691000000000003 L-3 26.691000000000003 C-8 20.09 -12.799999999999997 16.0 -17.799999999999997 13.5 Z" stroke-width="1.4"/><path d="M-15.799999999999997 -12.5 L-10.299999999999997 -16.0 L-10.299999999999997 16.0 L-15.799999999999997 12.5 Z" stroke="none" fill="#1c1c1c"/><rect x="-14.999999999999996" y="-6.6" width="4" height="3.7" stroke="none" fill="#fff"/><rect x="-14.999999999999996" y="-1.6" width="4" height="3.2" stroke="none" fill="#fff"/><rect x="-14.999999999999996" y="2.9" width="4" height="3.7" stroke="none" fill="#fff"/><ellipse cx="-5.5" cy="0" rx="6.013999999999999" ry="24.107999999999997" stroke-width="1.5" fill="#fff"/><ellipse cx="0" cy="0" rx="9.7" ry="28.7" stroke-width="2.10"/><ellipse cx="0.2" cy="0" rx="7.76" ry="25.54" stroke-width="1.26" fill="none"/><ellipse cx="0.5" cy="0" rx="6.11" ry="22.10" stroke-width="1.68" fill="none"/><ellipse cx="1.0" cy="0" rx="4.37" ry="17.22" stroke-width="1.16" fill="none"/><path d="M-2.91 -10.91 C5.82 -10.91 5.82 10.91 -2.91 10.91" stroke-width="1.26" fill="none"/></g>
<text x="364.5" y="595.0" class="lb" style="font-size:9.8px;" textLength="39.8" lengthAdjust="spacingAndGlyphs">Канал 10</text>
<text x="364.5" y="605.9" class="lb" style="font-size:9.8px;" textLength="48.6" lengthAdjust="spacingAndGlyphs">(сабвуфер)</text>
<text x="447.5" y="325" class="ch" textLength="90" lengthAdjust="spacingAndGlyphs">Левые каналы</text>
<text x="725.5" y="325" class="ch" textLength="96" lengthAdjust="spacingAndGlyphs">Правые каналы</text>
<g transform="translate(633.9 285.0) scale(1.0 1.0)"><path d="M0 0 C-14 0 -30 2 -40.2 8.3 L-41.5 10.6 C-50 13.6 -62 21 -68.8 29.8 C-70.6 32.5 -71.2 36 -71.3 42 L-71.6 62 C-75 66 -77.3 72 -77.3 80 L-77.3 118 C-77.3 122 -75 124 -72.4 125 L-72.4 268 C-76 270 -77.5 274 -77.5 280 L-77.5 312 C-77.5 322 -72 327 -67.8 331 C-66 343 -62 355 -52 366 C-40 375 -20 379.6 0 380.2  L0.4 380.2 L0.4 0 Z" fill="#dcdddf" stroke="none"/><g transform="scale(-1,1)"><path d="M0 0 C-14 0 -30 2 -40.2 8.3 L-41.5 10.6 C-50 13.6 -62 21 -68.8 29.8 C-70.6 32.5 -71.2 36 -71.3 42 L-71.6 62 C-75 66 -77.3 72 -77.3 80 L-77.3 118 C-77.3 122 -75 124 -72.4 125 L-72.4 268 C-76 270 -77.5 274 -77.5 280 L-77.5 312 C-77.5 322 -72 327 -67.8 331 C-66 343 -62 355 -52 366 C-40 375 -20 379.6 0 380.2  L0.4 380.2 L0.4 0 Z" fill="#dcdddf" stroke="none"/></g><path d="M0 71.5 C-25 72 -50 80 -66.6 94.5 L-67.8 125 L-67.8 268 L-70 268 L-66.6 296 L-60 272 L-54 284 C-40 288 -20 290.5 0 291 L0.4 291 L0.4 71.5 Z" fill="#fff"/><g transform="scale(-1,1)"><path d="M0 71.5 C-25 72 -50 80 -66.6 94.5 L-67.8 125 L-67.8 268 L-70 268 L-66.6 296 L-60 272 L-54 284 C-40 288 -20 290.5 0 291 L0.4 291 L0.4 71.5 Z" fill="#fff"/></g><path d="M0 291 C-20 290.5 -40 288 -54 284 L-55 300 C-57 312 -60 318 -64 320 L-67.8 314.4 C-60 325 -50 333 -40 336.5 C-28 340.5 -12 343 0 343 L0.4 343 L0.4 291 Z" fill="#fff"/><g transform="scale(-1,1)"><path d="M0 291 C-20 290.5 -40 288 -54 284 L-55 300 C-57 312 -60 318 -64 320 L-67.8 314.4 C-60 325 -50 333 -40 336.5 C-28 340.5 -12 343 0 343 L0.4 343 L0.4 291 Z" fill="#fff"/></g><path d="M-70 268 L-66.6 296.5 L-60 268 Z" fill="#fff"/><g transform="scale(-1,1)"><path d="M-70 268 L-66.6 296.5 L-60 268 Z" fill="#fff"/></g><path d="M-67 30.2 C-61 22.3 -50 15.4 -42.5 12.6" fill="none" stroke="#7c7c7c" stroke-width="3.2"/><path d="M-31 4.6 C-20 2.7 -10 2.3 0.3 2.3" fill="none" stroke="#7c7c7c" stroke-width="3.4"/><g transform="scale(-1,1)"><path d="M-67 30.2 C-61 22.3 -50 15.4 -42.5 12.6" fill="none" stroke="#7c7c7c" stroke-width="3.2"/><path d="M-31 4.6 C-20 2.7 -10 2.3 0.3 2.3" fill="none" stroke="#7c7c7c" stroke-width="3.4"/></g><path d="M0 0 C-14 0 -30 2 -40.2 8.3 L-41.5 10.6 C-50 13.6 -62 21 -68.8 29.8 C-70.6 32.5 -71.2 36 -71.3 42 L-71.6 62" fill="none" stroke="#1e1e1e" stroke-width="0.55" stroke-dasharray="3.2 1.2"/><path d="M-57 63.4 C-66 62.5 -74 66 -77.3 80" fill="none" stroke="#8a8a8a" stroke-width="0.6"/><path d="M-77.3 80 L-77.3 118 C-77.3 122 -75 124 -72.4 125 L-72.4 268" fill="none" stroke="#8a8a8a" stroke-width="0.6"/><path d="M-67.8 96 L-67.8 330" fill="none" stroke="#2a2a2a" stroke-width="0.8"/><path d="M-40.5 9 C-49 35 -58 65 -66.6 94.5" fill="none" stroke="#1e1e1e" stroke-width="0.55" stroke-dasharray="3.2 1.2"/><path d="M-66.6 94.5 C-50 80 -25 72 0 71.5" fill="none" stroke="#1e1e1e" stroke-width="0.55" stroke-dasharray="3.2 1.2"/><path d="M-66.6 94.5 C-62 115 -57 135 -54 152 C-52 165 -51 180 -51.6 200 L-51.6 262 C-52 275 -58 290 -66.6 296.5" fill="none" stroke="#2a2a2a" stroke-width="0.8"/><path d="M-64 96 C-60 115 -55 138 -51 156 C-48.5 170 -47.5 185 -47.5 200" fill="none" stroke="#666" stroke-width="0.55"/><path d="M-66.6 100 C-63 130 -59 165 -58 200 L-58 262 C-58.5 272 -62 285 -66.6 296.5" fill="none" stroke="#333" stroke-width="0.65"/><path d="M-54 152 C-40 149 -20 147.6 0 147.4" fill="none" stroke="#1e1e1e" stroke-width="0.55" stroke-dasharray="3.2 1.2"/><path d="M-68 198 L-57.4 206 L-57.4 216 L-68 209 Z" fill="#dcdddf" stroke="#3a3a3a" stroke-width="0.7"/><path d="M-72.4 268 C-76 270 -77.5 274 -77.5 280 L-77.5 312 C-77.5 322 -72 327 -67.8 331" fill="none" stroke="#8a8a8a" stroke-width="0.6"/><path d="M-67.8 331 C-66 343 -62 355 -52 366 C-40 375 -20 379.6 0 380.2" fill="none" stroke="#1e1e1e" stroke-width="0.55" stroke-dasharray="3.2 1.2"/><path d="M-60 300 C-60 330 -58 355 -50 368" fill="none" stroke="#1e1e1e" stroke-width="0.55" stroke-dasharray="3.2 1.2"/><path d="M-67.8 314.4 C-60 325 -50 333 -40 336.5 C-28 340.5 -12 343 0 343" fill="none" stroke="#1e1e1e" stroke-width="0.55" stroke-dasharray="3.2 1.2"/><path d="M-54 284 C-40 288 -20 290.5 0 291" fill="none" stroke="#1e1e1e" stroke-width="0.55" stroke-dasharray="3.2 1.2"/><path d="M-70 268 L-66.6 296.5 L-60 268" fill="none" stroke="#2a2a2a" stroke-width="0.8"/><path d="M-54 284 L-55 300 C-57 312 -60 318 -64 320" fill="none" stroke="#1e1e1e" stroke-width="0.55" stroke-dasharray="3.2 1.2"/><path d="M-69 118 C-78 121 -87 126 -92 132 C-92.5 134.5 -91 136 -89 136 C-83 135 -77 132 -71 128 Z" fill="#dcdddf" stroke="#3a3a3a" stroke-width="0.7"/><path d="M-91.5 133 C-85 130 -79 128 -72 124" fill="none" stroke="#2a2a2a" stroke-width="0.8"/><path d="M-48.8 172 C-48.8 167 -42.5 167 -42.5 172 L-42.5 205 C-42.5 212 -38 215.5 -32 215.5 L-21 215.5 C-17.5 215.5 -16.5 213 -16.5 208 L-16.5 172 C-16.5 167 -10.7 167 -10.7 172 L-10.7 212 C-10.7 219 -14 222.6 -20 222.6 L-36 222.6 C-44 222.6 -48.8 218 -48.8 208 Z" fill="#dcdddf" stroke="#3a3a3a" stroke-width="0.6" stroke-dasharray="7 1"/><path d="M-48.8 231 C-48.8 224 -42.5 224 -42.5 231 L-42.5 252 C-42.5 257 -44 259 -45.6 262 C-47 259 -48.8 257 -48.8 252 Z" fill="#dcdddf" stroke="#3a3a3a" stroke-width="0.6" stroke-dasharray="7 1"/><path d="M-48.8 262 L-42.5 262 C-42.5 268 -39 270.6 -33 270.6 L0.4 270.6 L0.4 280 L-36 280 C-44 280 -48.8 275 -48.8 268 Z" fill="#dcdddf" stroke="none"/><path d="M-42.5 262 C-42.5 268 -39 270.6 -33 270.6 L0 270.6 M0 280 L-36 280 C-44 280 -48.8 275 -48.8 262" fill="none" stroke="#3a3a3a" stroke-width="0.6" stroke-dasharray="7 1"/><path d="M-40 176 L-18 176 M-40 181 L-18 181 M-40 186 L-18 186 M-40 191 L-18 191 M-40 196 L-18 196 M-40 201 L-18 201 M-40 235 L-14 235 M-40 241 L-14 241 M-40 247 L-14 247 M-40 253 L-14 253" fill="none" stroke="#e4e4e4" stroke-width="0.6"/><g transform="scale(-1,1)"><path d="M0 0 C-14 0 -30 2 -40.2 8.3 L-41.5 10.6 C-50 13.6 -62 21 -68.8 29.8 C-70.6 32.5 -71.2 36 -71.3 42 L-71.6 62" fill="none" stroke="#1e1e1e" stroke-width="0.55" stroke-dasharray="3.2 1.2"/><path d="M-57 63.4 C-66 62.5 -74 66 -77.3 80" fill="none" stroke="#8a8a8a" stroke-width="0.6"/><path d="M-77.3 80 L-77.3 118 C-77.3 122 -75 124 -72.4 125 L-72.4 268" fill="none" stroke="#8a8a8a" stroke-width="0.6"/><path d="M-67.8 96 L-67.8 330" fill="none" stroke="#2a2a2a" stroke-width="0.8"/><path d="M-40.5 9 C-49 35 -58 65 -66.6 94.5" fill="none" stroke="#1e1e1e" stroke-width="0.55" stroke-dasharray="3.2 1.2"/><path d="M-66.6 94.5 C-50 80 -25 72 0 71.5" fill="none" stroke="#1e1e1e" stroke-width="0.55" stroke-dasharray="3.2 1.2"/><path d="M-66.6 94.5 C-62 115 -57 135 -54 152 C-52 165 -51 180 -51.6 200 L-51.6 262 C-52 275 -58 290 -66.6 296.5" fill="none" stroke="#2a2a2a" stroke-width="0.8"/><path d="M-64 96 C-60 115 -55 138 -51 156 C-48.5 170 -47.5 185 -47.5 200" fill="none" stroke="#666" stroke-width="0.55"/><path d="M-66.6 100 C-63 130 -59 165 -58 200 L-58 262 C-58.5 272 -62 285 -66.6 296.5" fill="none" stroke="#333" stroke-width="0.65"/><path d="M-54 152 C-40 149 -20 147.6 0 147.4" fill="none" stroke="#1e1e1e" stroke-width="0.55" stroke-dasharray="3.2 1.2"/><path d="M-68 198 L-57.4 206 L-57.4 216 L-68 209 Z" fill="#dcdddf" stroke="#3a3a3a" stroke-width="0.7"/><path d="M-72.4 268 C-76 270 -77.5 274 -77.5 280 L-77.5 312 C-77.5 322 -72 327 -67.8 331" fill="none" stroke="#8a8a8a" stroke-width="0.6"/><path d="M-67.8 331 C-66 343 -62 355 -52 366 C-40 375 -20 379.6 0 380.2" fill="none" stroke="#1e1e1e" stroke-width="0.55" stroke-dasharray="3.2 1.2"/><path d="M-60 300 C-60 330 -58 355 -50 368" fill="none" stroke="#1e1e1e" stroke-width="0.55" stroke-dasharray="3.2 1.2"/><path d="M-67.8 314.4 C-60 325 -50 333 -40 336.5 C-28 340.5 -12 343 0 343" fill="none" stroke="#1e1e1e" stroke-width="0.55" stroke-dasharray="3.2 1.2"/><path d="M-54 284 C-40 288 -20 290.5 0 291" fill="none" stroke="#1e1e1e" stroke-width="0.55" stroke-dasharray="3.2 1.2"/><path d="M-70 268 L-66.6 296.5 L-60 268" fill="none" stroke="#2a2a2a" stroke-width="0.8"/><path d="M-54 284 L-55 300 C-57 312 -60 318 -64 320" fill="none" stroke="#1e1e1e" stroke-width="0.55" stroke-dasharray="3.2 1.2"/><path d="M-69 118 C-78 121 -87 126 -92 132 C-92.5 134.5 -91 136 -89 136 C-83 135 -77 132 -71 128 Z" fill="#dcdddf" stroke="#3a3a3a" stroke-width="0.7"/><path d="M-91.5 133 C-85 130 -79 128 -72 124" fill="none" stroke="#2a2a2a" stroke-width="0.8"/><path d="M-48.8 172 C-48.8 167 -42.5 167 -42.5 172 L-42.5 205 C-42.5 212 -38 215.5 -32 215.5 L-21 215.5 C-17.5 215.5 -16.5 213 -16.5 208 L-16.5 172 C-16.5 167 -10.7 167 -10.7 172 L-10.7 212 C-10.7 219 -14 222.6 -20 222.6 L-36 222.6 C-44 222.6 -48.8 218 -48.8 208 Z" fill="#dcdddf" stroke="#3a3a3a" stroke-width="0.6" stroke-dasharray="7 1"/><path d="M-48.8 231 C-48.8 224 -42.5 224 -42.5 231 L-42.5 252 C-42.5 257 -44 259 -45.6 262 C-47 259 -48.8 257 -48.8 252 Z" fill="#dcdddf" stroke="#3a3a3a" stroke-width="0.6" stroke-dasharray="7 1"/><path d="M-48.8 262 L-42.5 262 C-42.5 268 -39 270.6 -33 270.6 L0.4 270.6 L0.4 280 L-36 280 C-44 280 -48.8 275 -48.8 268 Z" fill="#dcdddf" stroke="none"/><path d="M-42.5 262 C-42.5 268 -39 270.6 -33 270.6 L0 270.6 M0 280 L-36 280 C-44 280 -48.8 275 -48.8 262" fill="none" stroke="#3a3a3a" stroke-width="0.6" stroke-dasharray="7 1"/><path d="M-40 176 L-18 176 M-40 181 L-18 181 M-40 186 L-18 186 M-40 191 L-18 191 M-40 196 L-18 196 M-40 201 L-18 201 M-40 235 L-14 235 M-40 241 L-14 241 M-40 247 L-14 247 M-40 253 L-14 253" fill="none" stroke="#e4e4e4" stroke-width="0.6"/></g></g>
<path d="M544.5 371.5 L605.5 371.5" fill="none" stroke="#2e2e2e" stroke-width="2.4"/><path d="M544.5 371.5 L605.5 371.5" fill="none" stroke="#fff" stroke-width="1"/>
<path d="M544.5 441.5 L602.5 441.5 L602.5 394.5" fill="none" stroke="#2e2e2e" stroke-width="2.4"/><path d="M544.5 441.5 L602.5 441.5 L602.5 394.5" fill="none" stroke="#fff" stroke-width="1"/>
<path d="M544.5 488.5 L613.5 488.5 L613.5 394.5" fill="none" stroke="#2e2e2e" stroke-width="2.4"/><path d="M544.5 488.5 L613.5 488.5 L613.5 394.5" fill="none" stroke="#fff" stroke-width="1"/>
<path d="M721.5 371.5 L660.5 371.5" fill="none" stroke="#2e2e2e" stroke-width="2.4"/><path d="M721.5 371.5 L660.5 371.5" fill="none" stroke="#fff" stroke-width="1"/>
<path d="M721.5 441.5 L665.5 441.5 L665.5 394.5" fill="none" stroke="#2e2e2e" stroke-width="2.4"/><path d="M721.5 441.5 L665.5 441.5 L665.5 394.5" fill="none" stroke="#fff" stroke-width="1"/>
<path d="M721.5 488.5 L654.5 488.5 L654.5 394.5" fill="none" stroke="#2e2e2e" stroke-width="2.4"/><path d="M721.5 488.5 L654.5 488.5 L654.5 394.5" fill="none" stroke="#fff" stroke-width="1"/>
<path d="M625.4 394.9 L625.4 569.8" stroke="#111" stroke-width="2.40" fill="none"/><path d="M625.4 567.8 L625.4 579.3" stroke="#444" stroke-width="4.00" fill="none"/><path d="M625.4 578.8 L625.4 585.2" stroke="#888" stroke-width="1.60" fill="none"/>
<path d="M642.2 394.9 L642.2 569.8" stroke="#111" stroke-width="2.40" fill="none"/><path d="M642.2 567.8 L642.2 579.3" stroke="#444" stroke-width="4.00" fill="none"/><path d="M642.2 578.8 L642.2 585.2" stroke="#888" stroke-width="1.60" fill="none"/>
<rect x="618.1" y="309.4" width="33.20" height="23.90" fill="#fff" stroke="#222" stroke-width="0.9"/><rect x="618.1" y="309.4" width="33.20" height="5.00" fill="#777" stroke="#222" stroke-width="0.8"/><rect x="618.1" y="309.4" width="2.60" height="23.90" fill="#555" stroke="none"/><rect x="623.0" y="306.8" width="3.00" height="3.00" fill="#fff" stroke="#222" stroke-width="0.7"/><rect x="642.2" y="306.8" width="3.00" height="3.00" fill="#a33" stroke="#222" stroke-width="0.7"/>
<text x="635.7" y="303.8" text-anchor="middle" style="font-size:7.6px;fill:#222;" textLength="44.6" lengthAdjust="spacingAndGlyphs">Аккумулятор</text>
<path d="M624.3 311.0 L624.3 370.6" stroke="#111" stroke-width="2.00" fill="none"/><path d="M643.4 310.0 L643.4 338.0" stroke="#522" stroke-width="1.00" fill="none"/><path d="M643.2 343.6 L643.2 370.6" stroke="#111" stroke-width="1.70" fill="none"/><path d="M644.2 347.0 L647.6 347.0 L647.6 370.6" stroke="#666" stroke-width="1.00" fill="none"/>
<rect x="636.7" y="338.0" width="18.30" height="5.60" fill="#fff" stroke="#333" stroke-width="0.6"/><text x="645.8" y="342.6" text-anchor="middle" style="font-size:4.4px;fill:#333;">20 A</text>
<text x="656.5" y="340.6" style="font-size:5.6px;fill:#444;" textLength="49.5" lengthAdjust="spacingAndGlyphs">Дополнительный</text>
<text x="656.5" y="347.2" style="font-size:5.6px;fill:#444;" textLength="49.5" lengthAdjust="spacingAndGlyphs">предохранитель</text>
<path d="M606.5 370.6 L661.5 370.6 L669.9 374.1 L596.9 374.1 Z" fill="#fff" stroke="#222" stroke-width="0.8"/><rect x="596.9" y="374.1" width="73.00" height="20.80" fill="#fff" stroke="#222" stroke-width="1.1"/><rect x="598.4" y="375.6" width="70.00" height="15.20" fill="none" stroke="#222" stroke-width="0.6"/><circle cx="609.8" cy="383.4" r="4.60" fill="#fff" stroke="#222" stroke-width="0.8"/><rect x="615.0" y="378.9" width="41.50" height="10.50" fill="#fff" stroke="#222" stroke-width="0.8"/><rect x="659.1" y="379.4" width="6.30" height="11.00" fill="#fff" stroke="#222" stroke-width="0.8"/><path d="M599.0 393.0 L668.0 393.0" stroke="#222" stroke-width="2.60" stroke-dasharray="2.20 1.50" fill="none"/>
<rect x="590.5" y="585.2" width="85.20" height="31.60" fill="#fff" stroke="#222" stroke-width="1"/><path d="M590.5 590.3 L675.7 590.3 M590.5 612.4 L675.7 612.4" stroke="#222" stroke-width="0.8" fill="none"/><text x="633.1" y="604.08" text-anchor="middle" style="font-size:12.4px;fill:#222;" textLength="58.0" lengthAdjust="spacingAndGlyphs">Усилитель</text>
<g transform="translate(538.9 371.2) rotate(0) scale(1.0 1.0)" fill="#fff" stroke="#111"><path d="M-2 -8.6 C-7.26 -9.03 -13.2 -6.88 -13.2 0 C-13.2 6.88 -7.26 9.03 -2 8.6 Z" stroke-width="1.45"/><ellipse cx="-7.66" cy="0" rx="1.80" ry="7.74" stroke-width="1.2" fill="none"/><ellipse cx="0" cy="0" rx="5.3" ry="12.9" stroke-width="1.8"/><ellipse cx="0.3" cy="0" rx="2.97" ry="6.19" stroke-width="2.2"/></g>
<text x="518.4" y="370.4" text-anchor="end" class="lb" style="font-size:9.8px;" textLength="33.7" lengthAdjust="spacingAndGlyphs">Канал 1</text>
<text x="519.0" y="381.3" text-anchor="end" class="lb" style="font-size:9.8px;" textLength="36.5" lengthAdjust="spacingAndGlyphs">(твитер)</text>
<g transform="translate(535.66 441.6) rotate(0) scale(1.08 1.08)" fill="#fff" stroke="#111"><path d="M-2 -9.5 C-9.350000000000001 -9.975 -17.0 -7.6000000000000005 -17.0 0 C-17.0 7.6000000000000005 -9.350000000000001 9.975 -2 9.5 Z" stroke-width="1.45"/><ellipse cx="-9.86" cy="0" rx="1.80" ry="8.55" stroke-width="1.2" fill="none"/><ellipse cx="-6.12" cy="0" rx="2.4" ry="10.64" stroke-width="1.5" fill="#2a2a2a"/><ellipse cx="0" cy="0" rx="8.0" ry="18.8" stroke-width="1.50"/><ellipse cx="0.2" cy="0" rx="6.40" ry="16.73" stroke-width="0.90" fill="none"/><ellipse cx="0.5" cy="0" rx="5.04" ry="14.48" stroke-width="1.20" fill="none"/><ellipse cx="1.0" cy="0" rx="3.60" ry="11.28" stroke-width="0.82" fill="none"/><path d="M-2.40 -7.14 C4.80 -7.14 4.80 7.14 -2.40 7.14" stroke-width="0.90" fill="none"/></g>
<text x="512.9" y="440.8" text-anchor="end" class="lb" style="font-size:9.8px;" textLength="33.7" lengthAdjust="spacingAndGlyphs">Канал 3</text>
<text x="513.5" y="451.7" text-anchor="end" class="lb" style="font-size:9.8px;" textLength="62.2" lengthAdjust="spacingAndGlyphs">(СЧ-динамик)</text>
<g transform="translate(533.81 489.6) rotate(0) scale(0.98 0.98)" fill="#fff" stroke="#111"><path d="M-2 -13.2 C-12.100000000000001 -13.86 -22.0 -10.56 -22.0 0 C-22.0 10.56 -12.100000000000001 13.86 -2 13.2 Z" stroke-width="1.45"/><ellipse cx="-12.76" cy="0" rx="2.35" ry="11.88" stroke-width="1.2" fill="none"/><ellipse cx="-7.92" cy="0" rx="3.2099999999999995" ry="14.784" stroke-width="1.5" fill="#2a2a2a"/><ellipse cx="0" cy="0" rx="10.7" ry="25.9" stroke-width="1.93"/><ellipse cx="0.2" cy="0" rx="8.56" ry="23.05" stroke-width="1.16" fill="none"/><ellipse cx="0.5" cy="0" rx="6.74" ry="19.94" stroke-width="1.55" fill="none"/><ellipse cx="1.0" cy="0" rx="4.81" ry="15.54" stroke-width="1.06" fill="none"/><path d="M-3.21 -9.84 C6.42 -9.84 6.42 9.84 -3.21 9.84" stroke-width="1.16" fill="none"/></g>
<text x="506.3" y="487.5" text-anchor="end" class="lb" style="font-size:9.8px;" textLength="33.7" lengthAdjust="spacingAndGlyphs">Канал 5</text>
<text x="506.90000000000003" y="498.4" text-anchor="end" class="lb" style="font-size:9.8px;" textLength="39.3" lengthAdjust="spacingAndGlyphs">(мидбас)</text>
<g transform="translate(726.8 371.2) rotate(0) scale(-1.0 1.0)" fill="#fff" stroke="#111"><path d="M-2 -8.6 C-7.26 -9.03 -13.2 -6.88 -13.2 0 C-13.2 6.88 -7.26 9.03 -2 8.6 Z" stroke-width="1.45"/><ellipse cx="-7.66" cy="0" rx="1.80" ry="7.74" stroke-width="1.2" fill="none"/><ellipse cx="0" cy="0" rx="5.3" ry="12.9" stroke-width="1.8"/><ellipse cx="0.3" cy="0" rx="2.97" ry="6.19" stroke-width="2.2"/></g>
<text x="745.2" y="370.4" class="lb" style="font-size:9.8px;" textLength="33.7" lengthAdjust="spacingAndGlyphs">Канал 2</text>
<text x="745.2" y="381.3" class="lb" style="font-size:9.8px;" textLength="36.5" lengthAdjust="spacingAndGlyphs">(твитер)</text>
<g transform="translate(730.14 441.6) rotate(0) scale(-1.08 1.08)" fill="#fff" stroke="#111"><path d="M-2 -9.5 C-9.350000000000001 -9.975 -17.0 -7.6000000000000005 -17.0 0 C-17.0 7.6000000000000005 -9.350000000000001 9.975 -2 9.5 Z" stroke-width="1.45"/><ellipse cx="-9.86" cy="0" rx="1.80" ry="8.55" stroke-width="1.2" fill="none"/><ellipse cx="-6.12" cy="0" rx="2.4" ry="10.64" stroke-width="1.5" fill="#2a2a2a"/><ellipse cx="0" cy="0" rx="8.0" ry="18.8" stroke-width="1.50"/><ellipse cx="0.2" cy="0" rx="6.40" ry="16.73" stroke-width="0.90" fill="none"/><ellipse cx="0.5" cy="0" rx="5.04" ry="14.48" stroke-width="1.20" fill="none"/><ellipse cx="1.0" cy="0" rx="3.60" ry="11.28" stroke-width="0.82" fill="none"/><path d="M-2.40 -7.14 C4.80 -7.14 4.80 7.14 -2.40 7.14" stroke-width="0.90" fill="none"/></g>
<text x="755" y="440.8" class="lb" style="font-size:9.8px;" textLength="33.7" lengthAdjust="spacingAndGlyphs">Канал 4</text>
<text x="755" y="451.7" class="lb" style="font-size:9.8px;" textLength="62.2" lengthAdjust="spacingAndGlyphs">(СЧ-динамик)</text>
<g transform="translate(731.99 489.6) rotate(0) scale(-0.98 0.98)" fill="#fff" stroke="#111"><path d="M-2 -13.2 C-12.100000000000001 -13.86 -22.0 -10.56 -22.0 0 C-22.0 10.56 -12.100000000000001 13.86 -2 13.2 Z" stroke-width="1.45"/><ellipse cx="-12.76" cy="0" rx="2.35" ry="11.88" stroke-width="1.2" fill="none"/><ellipse cx="-7.92" cy="0" rx="3.2099999999999995" ry="14.784" stroke-width="1.5" fill="#2a2a2a"/><ellipse cx="0" cy="0" rx="10.7" ry="25.9" stroke-width="1.93"/><ellipse cx="0.2" cy="0" rx="8.56" ry="23.05" stroke-width="1.16" fill="none"/><ellipse cx="0.5" cy="0" rx="6.74" ry="19.94" stroke-width="1.55" fill="none"/><ellipse cx="1.0" cy="0" rx="4.81" ry="15.54" stroke-width="1.06" fill="none"/><path d="M-3.21 -9.84 C6.42 -9.84 6.42 9.84 -3.21 9.84" stroke-width="1.16" fill="none"/></g>
<text x="760.4" y="487.5" class="lb" style="font-size:9.8px;" textLength="33.7" lengthAdjust="spacingAndGlyphs">Канал 6</text>
<text x="760.4" y="498.4" class="lb" style="font-size:9.8px;" textLength="39.3" lengthAdjust="spacingAndGlyphs">(мидбас)</text>
<path d="M633.5 616.5 L633.5 676.5" fill="none" stroke="#2e2e2e" stroke-width="2.4"/><path d="M633.5 616.5 L633.5 676.5" fill="none" stroke="#fff" stroke-width="1"/>
<g transform="translate(631.7 685.9) rotate(-90) scale(1.0 1.0)" fill="#fff" stroke="#111"><path d="M-27.799999999999997 -14.0 C-34.0 -14.0 -34.0 14.0 -27.799999999999997 14.0 L-17.799999999999997 14.0 L-17.799999999999997 -14.0 Z" stroke-width="1.3"/><ellipse cx="-23.799999999999997" cy="0" rx="2.6" ry="14.0" stroke-width="1.7" fill="none"/><ellipse cx="-18.299999999999997" cy="0" rx="2.6" ry="13.7" stroke-width="1.1"/><path d="M-17.799999999999997 -13.5 C-12.799999999999997 -16.0 -8 -20.09 -3 -26.691000000000003 L-3 26.691000000000003 C-8 20.09 -12.799999999999997 16.0 -17.799999999999997 13.5 Z" stroke-width="1.4"/><path d="M-15.799999999999997 -12.5 L-10.299999999999997 -16.0 L-10.299999999999997 16.0 L-15.799999999999997 12.5 Z" stroke="none" fill="#1c1c1c"/><rect x="-14.999999999999996" y="-6.6" width="4" height="3.7" stroke="none" fill="#fff"/><rect x="-14.999999999999996" y="-1.6" width="4" height="3.2" stroke="none" fill="#fff"/><rect x="-14.999999999999996" y="2.9" width="4" height="3.7" stroke="none" fill="#fff"/><ellipse cx="-5.5" cy="0" rx="6.013999999999999" ry="24.107999999999997" stroke-width="1.5" fill="#fff"/><ellipse cx="0" cy="0" rx="9.7" ry="28.7" stroke-width="2.10"/><ellipse cx="0.2" cy="0" rx="7.76" ry="25.54" stroke-width="1.26" fill="none"/><ellipse cx="0.5" cy="0" rx="6.11" ry="22.10" stroke-width="1.68" fill="none"/><ellipse cx="1.0" cy="0" rx="4.37" ry="17.22" stroke-width="1.16" fill="none"/><path d="M-2.91 -10.91 C5.82 -10.91 5.82 10.91 -2.91 10.91" stroke-width="1.26" fill="none"/></g>
<text x="665.6" y="695.3" class="lb" style="font-size:9.8px;" textLength="54.8" lengthAdjust="spacingAndGlyphs">Каналы 9/10</text>
<text x="664.9" y="706.9" class="lb" style="font-size:9.8px;" textLength="82.5" lengthAdjust="spacingAndGlyphs">(сабвуфер с одной</text>
<text x="665.6" y="717.2" class="lb" style="font-size:9.8px;" textLength="103.0" lengthAdjust="spacingAndGlyphs">или двумя обмотками)</text>
<text x="64.9" y="833.3" class="ch" style="font-size:10.6px;" textLength="81.4" lengthAdjust="spacingAndGlyphs">Левые каналы</text>
<text x="314.8" y="833.3" class="ch" style="font-size:10.6px;" textLength="87.5" lengthAdjust="spacingAndGlyphs">Правые каналы</text>
<g transform="translate(231.5 797.3) scale(0.905 0.91)"><path d="M0 0 C-14 0 -30 2 -40.2 8.3 L-41.5 10.6 C-50 13.6 -62 21 -68.8 29.8 C-70.6 32.5 -71.2 36 -71.3 42 L-71.6 62 C-75 66 -77.3 72 -77.3 80 L-77.3 118 C-77.3 122 -75 124 -72.4 125 L-72.4 268 C-76 270 -77.5 274 -77.5 280 L-77.5 312 C-77.5 322 -72 327 -67.8 331 C-66 343 -62 355 -52 366 C-40 375 -20 379.6 0 380.2  L0.4 380.2 L0.4 0 Z" fill="#dcdddf" stroke="none"/><g transform="scale(-1,1)"><path d="M0 0 C-14 0 -30 2 -40.2 8.3 L-41.5 10.6 C-50 13.6 -62 21 -68.8 29.8 C-70.6 32.5 -71.2 36 -71.3 42 L-71.6 62 C-75 66 -77.3 72 -77.3 80 L-77.3 118 C-77.3 122 -75 124 -72.4 125 L-72.4 268 C-76 270 -77.5 274 -77.5 280 L-77.5 312 C-77.5 322 -72 327 -67.8 331 C-66 343 -62 355 -52 366 C-40 375 -20 379.6 0 380.2  L0.4 380.2 L0.4 0 Z" fill="#dcdddf" stroke="none"/></g><path d="M0 71.5 C-25 72 -50 80 -66.6 94.5 L-67.8 125 L-67.8 268 L-70 268 L-66.6 296 L-60 272 L-54 284 C-40 288 -20 290.5 0 291 L0.4 291 L0.4 71.5 Z" fill="#fff"/><g transform="scale(-1,1)"><path d="M0 71.5 C-25 72 -50 80 -66.6 94.5 L-67.8 125 L-67.8 268 L-70 268 L-66.6 296 L-60 272 L-54 284 C-40 288 -20 290.5 0 291 L0.4 291 L0.4 71.5 Z" fill="#fff"/></g><path d="M0 291 C-20 290.5 -40 288 -54 284 L-55 300 C-57 312 -60 318 -64 320 L-67.8 314.4 C-60 325 -50 333 -40 336.5 C-28 340.5 -12 343 0 343 L0.4 343 L0.4 291 Z" fill="#fff"/><g transform="scale(-1,1)"><path d="M0 291 C-20 290.5 -40 288 -54 284 L-55 300 C-57 312 -60 318 -64 320 L-67.8 314.4 C-60 325 -50 333 -40 336.5 C-28 340.5 -12 343 0 343 L0.4 343 L0.4 291 Z" fill="#fff"/></g><path d="M-70 268 L-66.6 296.5 L-60 268 Z" fill="#fff"/><g transform="scale(-1,1)"><path d="M-70 268 L-66.6 296.5 L-60 268 Z" fill="#fff"/></g><path d="M-67 30.2 C-61 22.3 -50 15.4 -42.5 12.6" fill="none" stroke="#7c7c7c" stroke-width="3.2"/><path d="M-31 4.6 C-20 2.7 -10 2.3 0.3 2.3" fill="none" stroke="#7c7c7c" stroke-width="3.4"/><g transform="scale(-1,1)"><path d="M-67 30.2 C-61 22.3 -50 15.4 -42.5 12.6" fill="none" stroke="#7c7c7c" stroke-width="3.2"/><path d="M-31 4.6 C-20 2.7 -10 2.3 0.3 2.3" fill="none" stroke="#7c7c7c" stroke-width="3.4"/></g><path d="M0 0 C-14 0 -30 2 -40.2 8.3 L-41.5 10.6 C-50 13.6 -62 21 -68.8 29.8 C-70.6 32.5 -71.2 36 -71.3 42 L-71.6 62" fill="none" stroke="#1e1e1e" stroke-width="0.55" stroke-dasharray="3.2 1.2"/><path d="M-57 63.4 C-66 62.5 -74 66 -77.3 80" fill="none" stroke="#8a8a8a" stroke-width="0.6"/><path d="M-77.3 80 L-77.3 118 C-77.3 122 -75 124 -72.4 125 L-72.4 268" fill="none" stroke="#8a8a8a" stroke-width="0.6"/><path d="M-67.8 96 L-67.8 330" fill="none" stroke="#2a2a2a" stroke-width="0.8"/><path d="M-40.5 9 C-49 35 -58 65 -66.6 94.5" fill="none" stroke="#1e1e1e" stroke-width="0.55" stroke-dasharray="3.2 1.2"/><path d="M-66.6 94.5 C-50 80 -25 72 0 71.5" fill="none" stroke="#1e1e1e" stroke-width="0.55" stroke-dasharray="3.2 1.2"/><path d="M-66.6 94.5 C-62 115 -57 135 -54 152 C-52 165 -51 180 -51.6 200 L-51.6 262 C-52 275 -58 290 -66.6 296.5" fill="none" stroke="#2a2a2a" stroke-width="0.8"/><path d="M-64 96 C-60 115 -55 138 -51 156 C-48.5 170 -47.5 185 -47.5 200" fill="none" stroke="#666" stroke-width="0.55"/><path d="M-66.6 100 C-63 130 -59 165 -58 200 L-58 262 C-58.5 272 -62 285 -66.6 296.5" fill="none" stroke="#333" stroke-width="0.65"/><path d="M-54 152 C-40 149 -20 147.6 0 147.4" fill="none" stroke="#1e1e1e" stroke-width="0.55" stroke-dasharray="3.2 1.2"/><path d="M-68 198 L-57.4 206 L-57.4 216 L-68 209 Z" fill="#dcdddf" stroke="#3a3a3a" stroke-width="0.7"/><path d="M-72.4 268 C-76 270 -77.5 274 -77.5 280 L-77.5 312 C-77.5 322 -72 327 -67.8 331" fill="none" stroke="#8a8a8a" stroke-width="0.6"/><path d="M-67.8 331 C-66 343 -62 355 -52 366 C-40 375 -20 379.6 0 380.2" fill="none" stroke="#1e1e1e" stroke-width="0.55" stroke-dasharray="3.2 1.2"/><path d="M-60 300 C-60 330 -58 355 -50 368" fill="none" stroke="#1e1e1e" stroke-width="0.55" stroke-dasharray="3.2 1.2"/><path d="M-67.8 314.4 C-60 325 -50 333 -40 336.5 C-28 340.5 -12 343 0 343" fill="none" stroke="#1e1e1e" stroke-width="0.55" stroke-dasharray="3.2 1.2"/><path d="M-54 284 C-40 288 -20 290.5 0 291" fill="none" stroke="#1e1e1e" stroke-width="0.55" stroke-dasharray="3.2 1.2"/><path d="M-70 268 L-66.6 296.5 L-60 268" fill="none" stroke="#2a2a2a" stroke-width="0.8"/><path d="M-54 284 L-55 300 C-57 312 -60 318 -64 320" fill="none" stroke="#1e1e1e" stroke-width="0.55" stroke-dasharray="3.2 1.2"/><path d="M-69 118 C-78 121 -87 126 -92 132 C-92.5 134.5 -91 136 -89 136 C-83 135 -77 132 -71 128 Z" fill="#dcdddf" stroke="#3a3a3a" stroke-width="0.7"/><path d="M-91.5 133 C-85 130 -79 128 -72 124" fill="none" stroke="#2a2a2a" stroke-width="0.8"/><path d="M-48.8 172 C-48.8 167 -42.5 167 -42.5 172 L-42.5 205 C-42.5 212 -38 215.5 -32 215.5 L-21 215.5 C-17.5 215.5 -16.5 213 -16.5 208 L-16.5 172 C-16.5 167 -10.7 167 -10.7 172 L-10.7 212 C-10.7 219 -14 222.6 -20 222.6 L-36 222.6 C-44 222.6 -48.8 218 -48.8 208 Z" fill="#dcdddf" stroke="#3a3a3a" stroke-width="0.6" stroke-dasharray="7 1"/><path d="M-48.8 231 C-48.8 224 -42.5 224 -42.5 231 L-42.5 252 C-42.5 257 -44 259 -45.6 262 C-47 259 -48.8 257 -48.8 252 Z" fill="#dcdddf" stroke="#3a3a3a" stroke-width="0.6" stroke-dasharray="7 1"/><path d="M-48.8 262 L-42.5 262 C-42.5 268 -39 270.6 -33 270.6 L0.4 270.6 L0.4 280 L-36 280 C-44 280 -48.8 275 -48.8 268 Z" fill="#dcdddf" stroke="none"/><path d="M-42.5 262 C-42.5 268 -39 270.6 -33 270.6 L0 270.6 M0 280 L-36 280 C-44 280 -48.8 275 -48.8 262" fill="none" stroke="#3a3a3a" stroke-width="0.6" stroke-dasharray="7 1"/><path d="M-40 176 L-18 176 M-40 181 L-18 181 M-40 186 L-18 186 M-40 191 L-18 191 M-40 196 L-18 196 M-40 201 L-18 201 M-40 235 L-14 235 M-40 241 L-14 241 M-40 247 L-14 247 M-40 253 L-14 253" fill="none" stroke="#e4e4e4" stroke-width="0.6"/><g transform="scale(-1,1)"><path d="M0 0 C-14 0 -30 2 -40.2 8.3 L-41.5 10.6 C-50 13.6 -62 21 -68.8 29.8 C-70.6 32.5 -71.2 36 -71.3 42 L-71.6 62" fill="none" stroke="#1e1e1e" stroke-width="0.55" stroke-dasharray="3.2 1.2"/><path d="M-57 63.4 C-66 62.5 -74 66 -77.3 80" fill="none" stroke="#8a8a8a" stroke-width="0.6"/><path d="M-77.3 80 L-77.3 118 C-77.3 122 -75 124 -72.4 125 L-72.4 268" fill="none" stroke="#8a8a8a" stroke-width="0.6"/><path d="M-67.8 96 L-67.8 330" fill="none" stroke="#2a2a2a" stroke-width="0.8"/><path d="M-40.5 9 C-49 35 -58 65 -66.6 94.5" fill="none" stroke="#1e1e1e" stroke-width="0.55" stroke-dasharray="3.2 1.2"/><path d="M-66.6 94.5 C-50 80 -25 72 0 71.5" fill="none" stroke="#1e1e1e" stroke-width="0.55" stroke-dasharray="3.2 1.2"/><path d="M-66.6 94.5 C-62 115 -57 135 -54 152 C-52 165 -51 180 -51.6 200 L-51.6 262 C-52 275 -58 290 -66.6 296.5" fill="none" stroke="#2a2a2a" stroke-width="0.8"/><path d="M-64 96 C-60 115 -55 138 -51 156 C-48.5 170 -47.5 185 -47.5 200" fill="none" stroke="#666" stroke-width="0.55"/><path d="M-66.6 100 C-63 130 -59 165 -58 200 L-58 262 C-58.5 272 -62 285 -66.6 296.5" fill="none" stroke="#333" stroke-width="0.65"/><path d="M-54 152 C-40 149 -20 147.6 0 147.4" fill="none" stroke="#1e1e1e" stroke-width="0.55" stroke-dasharray="3.2 1.2"/><path d="M-68 198 L-57.4 206 L-57.4 216 L-68 209 Z" fill="#dcdddf" stroke="#3a3a3a" stroke-width="0.7"/><path d="M-72.4 268 C-76 270 -77.5 274 -77.5 280 L-77.5 312 C-77.5 322 -72 327 -67.8 331" fill="none" stroke="#8a8a8a" stroke-width="0.6"/><path d="M-67.8 331 C-66 343 -62 355 -52 366 C-40 375 -20 379.6 0 380.2" fill="none" stroke="#1e1e1e" stroke-width="0.55" stroke-dasharray="3.2 1.2"/><path d="M-60 300 C-60 330 -58 355 -50 368" fill="none" stroke="#1e1e1e" stroke-width="0.55" stroke-dasharray="3.2 1.2"/><path d="M-67.8 314.4 C-60 325 -50 333 -40 336.5 C-28 340.5 -12 343 0 343" fill="none" stroke="#1e1e1e" stroke-width="0.55" stroke-dasharray="3.2 1.2"/><path d="M-54 284 C-40 288 -20 290.5 0 291" fill="none" stroke="#1e1e1e" stroke-width="0.55" stroke-dasharray="3.2 1.2"/><path d="M-70 268 L-66.6 296.5 L-60 268" fill="none" stroke="#2a2a2a" stroke-width="0.8"/><path d="M-54 284 L-55 300 C-57 312 -60 318 -64 320" fill="none" stroke="#1e1e1e" stroke-width="0.55" stroke-dasharray="3.2 1.2"/><path d="M-69 118 C-78 121 -87 126 -92 132 C-92.5 134.5 -91 136 -89 136 C-83 135 -77 132 -71 128 Z" fill="#dcdddf" stroke="#3a3a3a" stroke-width="0.7"/><path d="M-91.5 133 C-85 130 -79 128 -72 124" fill="none" stroke="#2a2a2a" stroke-width="0.8"/><path d="M-48.8 172 C-48.8 167 -42.5 167 -42.5 172 L-42.5 205 C-42.5 212 -38 215.5 -32 215.5 L-21 215.5 C-17.5 215.5 -16.5 213 -16.5 208 L-16.5 172 C-16.5 167 -10.7 167 -10.7 172 L-10.7 212 C-10.7 219 -14 222.6 -20 222.6 L-36 222.6 C-44 222.6 -48.8 218 -48.8 208 Z" fill="#dcdddf" stroke="#3a3a3a" stroke-width="0.6" stroke-dasharray="7 1"/><path d="M-48.8 231 C-48.8 224 -42.5 224 -42.5 231 L-42.5 252 C-42.5 257 -44 259 -45.6 262 C-47 259 -48.8 257 -48.8 252 Z" fill="#dcdddf" stroke="#3a3a3a" stroke-width="0.6" stroke-dasharray="7 1"/><path d="M-48.8 262 L-42.5 262 C-42.5 268 -39 270.6 -33 270.6 L0.4 270.6 L0.4 280 L-36 280 C-44 280 -48.8 275 -48.8 268 Z" fill="#dcdddf" stroke="none"/><path d="M-42.5 262 C-42.5 268 -39 270.6 -33 270.6 L0 270.6 M0 280 L-36 280 C-44 280 -48.8 275 -48.8 262" fill="none" stroke="#3a3a3a" stroke-width="0.6" stroke-dasharray="7 1"/><path d="M-40 176 L-18 176 M-40 181 L-18 181 M-40 186 L-18 186 M-40 191 L-18 191 M-40 196 L-18 196 M-40 201 L-18 201 M-40 235 L-14 235 M-40 241 L-14 241 M-40 247 L-14 247 M-40 253 L-14 253" fill="none" stroke="#e4e4e4" stroke-width="0.6"/></g></g>
<path d="M150.5 874.5 L206.5 874.5" fill="none" stroke="#2e2e2e" stroke-width="2.4"/><path d="M150.5 874.5 L206.5 874.5" fill="none" stroke="#fff" stroke-width="1"/>
<path d="M150.5 940.5 L203.5 940.5 L203.5 897.5" fill="none" stroke="#2e2e2e" stroke-width="2.4"/><path d="M150.5 940.5 L203.5 940.5 L203.5 897.5" fill="none" stroke="#fff" stroke-width="1"/>
<path d="M150.5 982.5 L213.5 982.5 L213.5 897.5" fill="none" stroke="#2e2e2e" stroke-width="2.4"/><path d="M150.5 982.5 L213.5 982.5 L213.5 897.5" fill="none" stroke="#fff" stroke-width="1"/>
<path d="M150.5 1030.5 L216.5 1030.5 L216.5 897.5" fill="none" stroke="#2e2e2e" stroke-width="2.4"/><path d="M150.5 1030.5 L216.5 1030.5 L216.5 897.5" fill="none" stroke="#fff" stroke-width="1"/>
<path d="M150.5 1082.5 L192.5 1082.5" fill="none" stroke="#2e2e2e" stroke-width="2.4"/><path d="M150.5 1082.5 L192.5 1082.5" fill="none" stroke="#fff" stroke-width="1"/>
<path d="M310.5 874.5 L255.5 874.5" fill="none" stroke="#2e2e2e" stroke-width="2.4"/><path d="M310.5 874.5 L255.5 874.5" fill="none" stroke="#fff" stroke-width="1"/>
<path d="M310.5 940.5 L259.5 940.5 L259.5 897.5" fill="none" stroke="#2e2e2e" stroke-width="2.4"/><path d="M310.5 940.5 L259.5 940.5 L259.5 897.5" fill="none" stroke="#fff" stroke-width="1"/>
<path d="M310.5 982.5 L249.5 982.5 L249.5 897.5" fill="none" stroke="#2e2e2e" stroke-width="2.4"/><path d="M310.5 982.5 L249.5 982.5 L249.5 897.5" fill="none" stroke="#fff" stroke-width="1"/>
<path d="M310.5 1030.5 L246.5 1030.5 L246.5 897.5" fill="none" stroke="#2e2e2e" stroke-width="2.4"/><path d="M310.5 1030.5 L246.5 1030.5 L246.5 897.5" fill="none" stroke="#fff" stroke-width="1"/>
<path d="M310.5 1082.5 L269.5 1082.5" fill="none" stroke="#2e2e2e" stroke-width="2.4"/><path d="M310.5 1082.5 L269.5 1082.5" fill="none" stroke="#fff" stroke-width="1"/>
<path d="M223.81 897.31 L223.81 1054.83" stroke="#111" stroke-width="2.17" fill="none"/><path d="M223.81 1053.01 L223.81 1063.47" stroke="#444" stroke-width="3.62" fill="none"/><path d="M223.81 1063.02 L223.81 1068.84" stroke="#888" stroke-width="1.45" fill="none"/>
<path d="M239.01 897.31 L239.01 1054.83" stroke="#111" stroke-width="2.17" fill="none"/><path d="M239.01 1053.01 L239.01 1063.47" stroke="#444" stroke-width="3.62" fill="none"/><path d="M239.01 1063.02 L239.01 1068.84" stroke="#888" stroke-width="1.45" fill="none"/>
<rect x="217.66" y="819.5" width="30.04" height="21.75" fill="#fff" stroke="#222" stroke-width="0.9"/><rect x="217.66" y="819.5" width="30.04" height="4.55" fill="#777" stroke="#222" stroke-width="0.8"/><rect x="217.66" y="819.5" width="2.35" height="21.75" fill="#555" stroke="none"/><rect x="222.09" y="817.14" width="2.71" height="2.73" fill="#fff" stroke="#222" stroke-width="0.7"/><rect x="239.47" y="817.14" width="2.71" height="2.73" fill="#a33" stroke="#222" stroke-width="0.7"/>
<text x="233.59" y="814.41" text-anchor="middle" style="font-size:6.92px;fill:#222;" textLength="40.6" lengthAdjust="spacingAndGlyphs">Аккумулятор</text>
<path d="M223.27 820.96 L223.27 875.2" stroke="#111" stroke-width="1.81" fill="none"/><path d="M240.55 820.05 L240.55 845.53" stroke="#522" stroke-width="0.91" fill="none"/><path d="M240.37 850.63 L240.37 875.2" stroke="#111" stroke-width="1.54" fill="none"/><path d="M241.28 853.72 L244.36 853.72 L244.36 875.2" stroke="#666" stroke-width="0.91" fill="none"/>
<rect x="234.49" y="845.53" width="16.56" height="5.10" fill="#fff" stroke="#333" stroke-width="0.6"/><text x="242.73" y="849.72" text-anchor="middle" style="font-size:4.0px;fill:#333;">20 A</text>
<text x="252.41" y="847.9" style="font-size:5.1px;fill:#444;" textLength="45.0" lengthAdjust="spacingAndGlyphs">Дополнительный</text>
<text x="252.41" y="853.9" style="font-size:5.1px;fill:#444;" textLength="45.0" lengthAdjust="spacingAndGlyphs">предохранитель</text>
<path d="M207.16 875.2 L256.94 875.2 L264.54 878.38 L198.47 878.38 Z" fill="#fff" stroke="#222" stroke-width="0.8"/><rect x="198.47" y="878.38" width="66.06" height="18.93" fill="#fff" stroke="#222" stroke-width="1.1"/><rect x="199.83" y="879.75" width="63.35" height="13.83" fill="none" stroke="#222" stroke-width="0.6"/><circle cx="210.15" cy="886.84" r="4.19" fill="#fff" stroke="#222" stroke-width="0.8"/><rect x="214.85" y="882.75" width="37.56" height="9.55" fill="#fff" stroke="#222" stroke-width="0.8"/><rect x="254.76" y="883.2" width="5.70" height="10.01" fill="#fff" stroke="#222" stroke-width="0.8"/><path d="M200.37 895.58 L262.82 895.58" stroke="#222" stroke-width="2.35" stroke-dasharray="2.00 1.36" fill="none"/>
<rect x="192.22" y="1068.84" width="77.11" height="28.76" fill="#fff" stroke="#222" stroke-width="1"/><path d="M192.22 1073.48 L269.33 1073.48 M192.22 1093.6 L269.33 1093.6" stroke="#222" stroke-width="0.8" fill="none"/><text x="230.78" y="1086.68" text-anchor="middle" style="font-size:11.28px;fill:#222;" textLength="52.8" lengthAdjust="spacingAndGlyphs">Усилитель</text>
<g transform="translate(141.9 874.8) rotate(0) scale(1.0 1.0)" fill="#fff" stroke="#111"><path d="M-2 -11.2 C-9.955000000000002 -11.76 -18.1 -8.959999999999999 -18.1 0 C-18.1 8.959999999999999 -9.955000000000002 11.76 -2 11.2 Z" stroke-width="1.45"/><ellipse cx="-10.50" cy="0" rx="1.98" ry="10.08" stroke-width="1.2" fill="none"/><ellipse cx="-6.516" cy="0" rx="2.6999999999999997" ry="12.544" stroke-width="1.5" fill="#2a2a2a"/><ellipse cx="0" cy="0" rx="9.0" ry="21.3" stroke-width="1.65"/><ellipse cx="0.2" cy="0" rx="7.20" ry="18.96" stroke-width="0.99" fill="none"/><ellipse cx="0.5" cy="0" rx="5.67" ry="16.40" stroke-width="1.32" fill="none"/><ellipse cx="1.0" cy="0" rx="4.05" ry="12.78" stroke-width="0.91" fill="none"/><path d="M-2.70 -8.09 C5.40 -8.09 5.40 8.09 -2.70 8.09" stroke-width="0.99" fill="none"/></g>
<text x="117.7" y="871.9" text-anchor="end" class="lb" style="font-size:8.9px;" textLength="30.6" lengthAdjust="spacingAndGlyphs">Канал 1</text>
<text x="118.3" y="882.2" text-anchor="end" class="lb" style="font-size:8.9px;" textLength="75.8" lengthAdjust="spacingAndGlyphs">(широкополосный)</text>
<g transform="translate(141.9 939.3) rotate(0) scale(1.0 1.0)" fill="#fff" stroke="#111"><path d="M-2 -11.2 C-9.955000000000002 -11.76 -18.1 -8.959999999999999 -18.1 0 C-18.1 8.959999999999999 -9.955000000000002 11.76 -2 11.2 Z" stroke-width="1.45"/><ellipse cx="-10.50" cy="0" rx="1.98" ry="10.08" stroke-width="1.2" fill="none"/><ellipse cx="-6.516" cy="0" rx="2.6999999999999997" ry="12.544" stroke-width="1.5" fill="#2a2a2a"/><ellipse cx="0" cy="0" rx="9.0" ry="21.3" stroke-width="1.65"/><ellipse cx="0.2" cy="0" rx="7.20" ry="18.96" stroke-width="0.99" fill="none"/><ellipse cx="0.5" cy="0" rx="5.67" ry="16.40" stroke-width="1.32" fill="none"/><ellipse cx="1.0" cy="0" rx="4.05" ry="12.78" stroke-width="0.91" fill="none"/><path d="M-2.70 -8.09 C5.40 -8.09 5.40 8.09 -2.70 8.09" stroke-width="0.99" fill="none"/></g>
<text x="117.7" y="936.9" text-anchor="end" class="lb" style="font-size:8.9px;" textLength="30.6" lengthAdjust="spacingAndGlyphs">Канал 3</text>
<text x="118.3" y="947.2" text-anchor="end" class="lb" style="font-size:8.9px;" textLength="75.8" lengthAdjust="spacingAndGlyphs">(широкополосный)</text>
<g transform="translate(141.9 984.7) rotate(0) scale(1.0 1.0)" fill="#fff" stroke="#111"><path d="M-2 -11.2 C-9.955000000000002 -11.76 -18.1 -8.959999999999999 -18.1 0 C-18.1 8.959999999999999 -9.955000000000002 11.76 -2 11.2 Z" stroke-width="1.45"/><ellipse cx="-10.50" cy="0" rx="1.98" ry="10.08" stroke-width="1.2" fill="none"/><ellipse cx="-6.516" cy="0" rx="2.6999999999999997" ry="12.544" stroke-width="1.5" fill="#2a2a2a"/><ellipse cx="0" cy="0" rx="9.0" ry="21.3" stroke-width="1.65"/><ellipse cx="0.2" cy="0" rx="7.20" ry="18.96" stroke-width="0.99" fill="none"/><ellipse cx="0.5" cy="0" rx="5.67" ry="16.40" stroke-width="1.32" fill="none"/><ellipse cx="1.0" cy="0" rx="4.05" ry="12.78" stroke-width="0.91" fill="none"/><path d="M-2.70 -8.09 C5.40 -8.09 5.40 8.09 -2.70 8.09" stroke-width="0.99" fill="none"/></g>
<text x="117.7" y="981.3" text-anchor="end" class="lb" style="font-size:8.9px;" textLength="30.6" lengthAdjust="spacingAndGlyphs">Канал 5</text>
<text x="118.3" y="991.6" text-anchor="end" class="lb" style="font-size:8.9px;" textLength="75.8" lengthAdjust="spacingAndGlyphs">(широкополосный)</text>
<g transform="translate(141.9 1030.9) rotate(0) scale(1.0 1.0)" fill="#fff" stroke="#111"><path d="M-2 -11.2 C-9.955000000000002 -11.76 -18.1 -8.959999999999999 -18.1 0 C-18.1 8.959999999999999 -9.955000000000002 11.76 -2 11.2 Z" stroke-width="1.45"/><ellipse cx="-10.50" cy="0" rx="1.98" ry="10.08" stroke-width="1.2" fill="none"/><ellipse cx="-6.516" cy="0" rx="2.6999999999999997" ry="12.544" stroke-width="1.5" fill="#2a2a2a"/><ellipse cx="0" cy="0" rx="9.0" ry="21.3" stroke-width="1.65"/><ellipse cx="0.2" cy="0" rx="7.20" ry="18.96" stroke-width="0.99" fill="none"/><ellipse cx="0.5" cy="0" rx="5.67" ry="16.40" stroke-width="1.32" fill="none"/><ellipse cx="1.0" cy="0" rx="4.05" ry="12.78" stroke-width="0.91" fill="none"/><path d="M-2.70 -8.09 C5.40 -8.09 5.40 8.09 -2.70 8.09" stroke-width="0.99" fill="none"/></g>
<text x="117.7" y="1027.6" text-anchor="end" class="lb" style="font-size:8.9px;" textLength="30.6" lengthAdjust="spacingAndGlyphs">Канал 7</text>
<text x="118.3" y="1037.9" text-anchor="end" class="lb" style="font-size:8.9px;" textLength="75.8" lengthAdjust="spacingAndGlyphs">(широкополосный)</text>
<g transform="translate(141.49 1083.3) rotate(0) scale(0.97 0.97)" fill="#fff" stroke="#111"><path d="M-27.799999999999997 -14.0 C-34.0 -14.0 -34.0 14.0 -27.799999999999997 14.0 L-17.799999999999997 14.0 L-17.799999999999997 -14.0 Z" stroke-width="1.3"/><ellipse cx="-23.799999999999997" cy="0" rx="2.6" ry="14.0" stroke-width="1.7" fill="none"/><ellipse cx="-18.299999999999997" cy="0" rx="2.6" ry="13.7" stroke-width="1.1"/><path d="M-17.799999999999997 -13.5 C-12.799999999999997 -16.0 -8 -20.09 -3 -26.691000000000003 L-3 26.691000000000003 C-8 20.09 -12.799999999999997 16.0 -17.799999999999997 13.5 Z" stroke-width="1.4"/><path d="M-15.799999999999997 -12.5 L-10.299999999999997 -16.0 L-10.299999999999997 16.0 L-15.799999999999997 12.5 Z" stroke="none" fill="#1c1c1c"/><rect x="-14.999999999999996" y="-6.6" width="4" height="3.7" stroke="none" fill="#fff"/><rect x="-14.999999999999996" y="-1.6" width="4" height="3.2" stroke="none" fill="#fff"/><rect x="-14.999999999999996" y="2.9" width="4" height="3.7" stroke="none" fill="#fff"/><ellipse cx="-5.5" cy="0" rx="6.013999999999999" ry="24.107999999999997" stroke-width="1.5" fill="#fff"/><ellipse cx="0" cy="0" rx="9.7" ry="28.7" stroke-width="2.10"/><ellipse cx="0.2" cy="0" rx="7.76" ry="25.54" stroke-width="1.26" fill="none"/><ellipse cx="0.5" cy="0" rx="6.11" ry="22.10" stroke-width="1.68" fill="none"/><ellipse cx="1.0" cy="0" rx="4.37" ry="17.22" stroke-width="1.16" fill="none"/><path d="M-2.91 -10.91 C5.82 -10.91 5.82 10.91 -2.91 10.91" stroke-width="1.26" fill="none"/></g>
<text x="105.2" y="1079.3" text-anchor="end" class="lb" style="font-size:8.9px;" textLength="30.6" lengthAdjust="spacingAndGlyphs">Канал 9</text>
<text x="105.8" y="1089.6" text-anchor="end" class="lb" style="font-size:8.9px;" textLength="44.1" lengthAdjust="spacingAndGlyphs">(сабвуфер)</text>
<g transform="translate(319.8 874.8) rotate(0) scale(-1.0 1.0)" fill="#fff" stroke="#111"><path d="M-2 -11.2 C-9.955000000000002 -11.76 -18.1 -8.959999999999999 -18.1 0 C-18.1 8.959999999999999 -9.955000000000002 11.76 -2 11.2 Z" stroke-width="1.45"/><ellipse cx="-10.50" cy="0" rx="1.98" ry="10.08" stroke-width="1.2" fill="none"/><ellipse cx="-6.516" cy="0" rx="2.6999999999999997" ry="12.544" stroke-width="1.5" fill="#2a2a2a"/><ellipse cx="0" cy="0" rx="9.0" ry="21.3" stroke-width="1.65"/><ellipse cx="0.2" cy="0" rx="7.20" ry="18.96" stroke-width="0.99" fill="none"/><ellipse cx="0.5" cy="0" rx="5.67" ry="16.40" stroke-width="1.32" fill="none"/><ellipse cx="1.0" cy="0" rx="4.05" ry="12.78" stroke-width="0.91" fill="none"/><path d="M-2.70 -8.09 C5.40 -8.09 5.40 8.09 -2.70 8.09" stroke-width="0.99" fill="none"/></g>
<text x="342" y="871.9" class="lb" style="font-size:8.9px;" textLength="30.6" lengthAdjust="spacingAndGlyphs">Канал 2</text>
<text x="342" y="882.2" class="lb" style="font-size:8.9px;" textLength="75.8" lengthAdjust="spacingAndGlyphs">(широкополосный)</text>
<g transform="translate(319.8 939.3) rotate(0) scale(-1.0 1.0)" fill="#fff" stroke="#111"><path d="M-2 -11.2 C-9.955000000000002 -11.76 -18.1 -8.959999999999999 -18.1 0 C-18.1 8.959999999999999 -9.955000000000002 11.76 -2 11.2 Z" stroke-width="1.45"/><ellipse cx="-10.50" cy="0" rx="1.98" ry="10.08" stroke-width="1.2" fill="none"/><ellipse cx="-6.516" cy="0" rx="2.6999999999999997" ry="12.544" stroke-width="1.5" fill="#2a2a2a"/><ellipse cx="0" cy="0" rx="9.0" ry="21.3" stroke-width="1.65"/><ellipse cx="0.2" cy="0" rx="7.20" ry="18.96" stroke-width="0.99" fill="none"/><ellipse cx="0.5" cy="0" rx="5.67" ry="16.40" stroke-width="1.32" fill="none"/><ellipse cx="1.0" cy="0" rx="4.05" ry="12.78" stroke-width="0.91" fill="none"/><path d="M-2.70 -8.09 C5.40 -8.09 5.40 8.09 -2.70 8.09" stroke-width="0.99" fill="none"/></g>
<text x="342" y="936.9" class="lb" style="font-size:8.9px;" textLength="30.6" lengthAdjust="spacingAndGlyphs">Канал 4</text>
<text x="342" y="947.2" class="lb" style="font-size:8.9px;" textLength="75.8" lengthAdjust="spacingAndGlyphs">(широкополосный)</text>
<g transform="translate(319.8 984.7) rotate(0) scale(-1.0 1.0)" fill="#fff" stroke="#111"><path d="M-2 -11.2 C-9.955000000000002 -11.76 -18.1 -8.959999999999999 -18.1 0 C-18.1 8.959999999999999 -9.955000000000002 11.76 -2 11.2 Z" stroke-width="1.45"/><ellipse cx="-10.50" cy="0" rx="1.98" ry="10.08" stroke-width="1.2" fill="none"/><ellipse cx="-6.516" cy="0" rx="2.6999999999999997" ry="12.544" stroke-width="1.5" fill="#2a2a2a"/><ellipse cx="0" cy="0" rx="9.0" ry="21.3" stroke-width="1.65"/><ellipse cx="0.2" cy="0" rx="7.20" ry="18.96" stroke-width="0.99" fill="none"/><ellipse cx="0.5" cy="0" rx="5.67" ry="16.40" stroke-width="1.32" fill="none"/><ellipse cx="1.0" cy="0" rx="4.05" ry="12.78" stroke-width="0.91" fill="none"/><path d="M-2.70 -8.09 C5.40 -8.09 5.40 8.09 -2.70 8.09" stroke-width="0.99" fill="none"/></g>
<text x="342" y="981.3" class="lb" style="font-size:8.9px;" textLength="30.6" lengthAdjust="spacingAndGlyphs">Канал 6</text>
<text x="342" y="991.6" class="lb" style="font-size:8.9px;" textLength="75.8" lengthAdjust="spacingAndGlyphs">(широкополосный)</text>
<g transform="translate(319.8 1030.9) rotate(0) scale(-1.0 1.0)" fill="#fff" stroke="#111"><path d="M-2 -11.2 C-9.955000000000002 -11.76 -18.1 -8.959999999999999 -18.1 0 C-18.1 8.959999999999999 -9.955000000000002 11.76 -2 11.2 Z" stroke-width="1.45"/><ellipse cx="-10.50" cy="0" rx="1.98" ry="10.08" stroke-width="1.2" fill="none"/><ellipse cx="-6.516" cy="0" rx="2.6999999999999997" ry="12.544" stroke-width="1.5" fill="#2a2a2a"/><ellipse cx="0" cy="0" rx="9.0" ry="21.3" stroke-width="1.65"/><ellipse cx="0.2" cy="0" rx="7.20" ry="18.96" stroke-width="0.99" fill="none"/><ellipse cx="0.5" cy="0" rx="5.67" ry="16.40" stroke-width="1.32" fill="none"/><ellipse cx="1.0" cy="0" rx="4.05" ry="12.78" stroke-width="0.91" fill="none"/><path d="M-2.70 -8.09 C5.40 -8.09 5.40 8.09 -2.70 8.09" stroke-width="0.99" fill="none"/></g>
<text x="342" y="1027.6" class="lb" style="font-size:8.9px;" textLength="30.6" lengthAdjust="spacingAndGlyphs">Канал 8</text>
<text x="342" y="1037.9" class="lb" style="font-size:8.9px;" textLength="75.8" lengthAdjust="spacingAndGlyphs">(широкополосный)</text>
<g transform="translate(320.21 1083.3) rotate(0) scale(-0.97 0.97)" fill="#fff" stroke="#111"><path d="M-27.799999999999997 -14.0 C-34.0 -14.0 -34.0 14.0 -27.799999999999997 14.0 L-17.799999999999997 14.0 L-17.799999999999997 -14.0 Z" stroke-width="1.3"/><ellipse cx="-23.799999999999997" cy="0" rx="2.6" ry="14.0" stroke-width="1.7" fill="none"/><ellipse cx="-18.299999999999997" cy="0" rx="2.6" ry="13.7" stroke-width="1.1"/><path d="M-17.799999999999997 -13.5 C-12.799999999999997 -16.0 -8 -20.09 -3 -26.691000000000003 L-3 26.691000000000003 C-8 20.09 -12.799999999999997 16.0 -17.799999999999997 13.5 Z" stroke-width="1.4"/><path d="M-15.799999999999997 -12.5 L-10.299999999999997 -16.0 L-10.299999999999997 16.0 L-15.799999999999997 12.5 Z" stroke="none" fill="#1c1c1c"/><rect x="-14.999999999999996" y="-6.6" width="4" height="3.7" stroke="none" fill="#fff"/><rect x="-14.999999999999996" y="-1.6" width="4" height="3.2" stroke="none" fill="#fff"/><rect x="-14.999999999999996" y="2.9" width="4" height="3.7" stroke="none" fill="#fff"/><ellipse cx="-5.5" cy="0" rx="6.013999999999999" ry="24.107999999999997" stroke-width="1.5" fill="#fff"/><ellipse cx="0" cy="0" rx="9.7" ry="28.7" stroke-width="2.10"/><ellipse cx="0.2" cy="0" rx="7.76" ry="25.54" stroke-width="1.26" fill="none"/><ellipse cx="0.5" cy="0" rx="6.11" ry="22.10" stroke-width="1.68" fill="none"/><ellipse cx="1.0" cy="0" rx="4.37" ry="17.22" stroke-width="1.16" fill="none"/><path d="M-2.91 -10.91 C5.82 -10.91 5.82 10.91 -2.91 10.91" stroke-width="1.26" fill="none"/></g>
<text x="355.7" y="1079.3" class="lb" style="font-size:8.9px;" textLength="36.1" lengthAdjust="spacingAndGlyphs">Канал 10</text>
<text x="355.7" y="1089.6" class="lb" style="font-size:8.9px;" textLength="44.1" lengthAdjust="spacingAndGlyphs">(сабвуфер)</text>
<text x="447.5" y="833" class="ch" style="font-size:10.6px;" textLength="82.5" lengthAdjust="spacingAndGlyphs">Левые каналы</text>
<text x="737.5" y="833" class="ch" style="font-size:10.6px;" textLength="88" lengthAdjust="spacingAndGlyphs">Правые каналы</text>
<g transform="translate(633.2 795.4) scale(0.919 0.927)"><path d="M0 0 C-14 0 -30 2 -40.2 8.3 L-41.5 10.6 C-50 13.6 -62 21 -68.8 29.8 C-70.6 32.5 -71.2 36 -71.3 42 L-71.6 62 C-75 66 -77.3 72 -77.3 80 L-77.3 118 C-77.3 122 -75 124 -72.4 125 L-72.4 268 C-76 270 -77.5 274 -77.5 280 L-77.5 312 C-77.5 322 -72 327 -67.8 331 C-66 343 -62 355 -52 366 C-40 375 -20 379.6 0 380.2  L0.4 380.2 L0.4 0 Z" fill="#dcdddf" stroke="none"/><g transform="scale(-1,1)"><path d="M0 0 C-14 0 -30 2 -40.2 8.3 L-41.5 10.6 C-50 13.6 -62 21 -68.8 29.8 C-70.6 32.5 -71.2 36 -71.3 42 L-71.6 62 C-75 66 -77.3 72 -77.3 80 L-77.3 118 C-77.3 122 -75 124 -72.4 125 L-72.4 268 C-76 270 -77.5 274 -77.5 280 L-77.5 312 C-77.5 322 -72 327 -67.8 331 C-66 343 -62 355 -52 366 C-40 375 -20 379.6 0 380.2  L0.4 380.2 L0.4 0 Z" fill="#dcdddf" stroke="none"/></g><path d="M0 71.5 C-25 72 -50 80 -66.6 94.5 L-67.8 125 L-67.8 268 L-70 268 L-66.6 296 L-60 272 L-54 284 C-40 288 -20 290.5 0 291 L0.4 291 L0.4 71.5 Z" fill="#fff"/><g transform="scale(-1,1)"><path d="M0 71.5 C-25 72 -50 80 -66.6 94.5 L-67.8 125 L-67.8 268 L-70 268 L-66.6 296 L-60 272 L-54 284 C-40 288 -20 290.5 0 291 L0.4 291 L0.4 71.5 Z" fill="#fff"/></g><path d="M0 291 C-20 290.5 -40 288 -54 284 L-55 300 C-57 312 -60 318 -64 320 L-67.8 314.4 C-60 325 -50 333 -40 336.5 C-28 340.5 -12 343 0 343 L0.4 343 L0.4 291 Z" fill="#fff"/><g transform="scale(-1,1)"><path d="M0 291 C-20 290.5 -40 288 -54 284 L-55 300 C-57 312 -60 318 -64 320 L-67.8 314.4 C-60 325 -50 333 -40 336.5 C-28 340.5 -12 343 0 343 L0.4 343 L0.4 291 Z" fill="#fff"/></g><path d="M-70 268 L-66.6 296.5 L-60 268 Z" fill="#fff"/><g transform="scale(-1,1)"><path d="M-70 268 L-66.6 296.5 L-60 268 Z" fill="#fff"/></g><path d="M-67 30.2 C-61 22.3 -50 15.4 -42.5 12.6" fill="none" stroke="#7c7c7c" stroke-width="3.2"/><path d="M-31 4.6 C-20 2.7 -10 2.3 0.3 2.3" fill="none" stroke="#7c7c7c" stroke-width="3.4"/><g transform="scale(-1,1)"><path d="M-67 30.2 C-61 22.3 -50 15.4 -42.5 12.6" fill="none" stroke="#7c7c7c" stroke-width="3.2"/><path d="M-31 4.6 C-20 2.7 -10 2.3 0.3 2.3" fill="none" stroke="#7c7c7c" stroke-width="3.4"/></g><path d="M0 0 C-14 0 -30 2 -40.2 8.3 L-41.5 10.6 C-50 13.6 -62 21 -68.8 29.8 C-70.6 32.5 -71.2 36 -71.3 42 L-71.6 62" fill="none" stroke="#1e1e1e" stroke-width="0.55" stroke-dasharray="3.2 1.2"/><path d="M-57 63.4 C-66 62.5 -74 66 -77.3 80" fill="none" stroke="#8a8a8a" stroke-width="0.6"/><path d="M-77.3 80 L-77.3 118 C-77.3 122 -75 124 -72.4 125 L-72.4 268" fill="none" stroke="#8a8a8a" stroke-width="0.6"/><path d="M-67.8 96 L-67.8 330" fill="none" stroke="#2a2a2a" stroke-width="0.8"/><path d="M-40.5 9 C-49 35 -58 65 -66.6 94.5" fill="none" stroke="#1e1e1e" stroke-width="0.55" stroke-dasharray="3.2 1.2"/><path d="M-66.6 94.5 C-50 80 -25 72 0 71.5" fill="none" stroke="#1e1e1e" stroke-width="0.55" stroke-dasharray="3.2 1.2"/><path d="M-66.6 94.5 C-62 115 -57 135 -54 152 C-52 165 -51 180 -51.6 200 L-51.6 262 C-52 275 -58 290 -66.6 296.5" fill="none" stroke="#2a2a2a" stroke-width="0.8"/><path d="M-64 96 C-60 115 -55 138 -51 156 C-48.5 170 -47.5 185 -47.5 200" fill="none" stroke="#666" stroke-width="0.55"/><path d="M-66.6 100 C-63 130 -59 165 -58 200 L-58 262 C-58.5 272 -62 285 -66.6 296.5" fill="none" stroke="#333" stroke-width="0.65"/><path d="M-54 152 C-40 149 -20 147.6 0 147.4" fill="none" stroke="#1e1e1e" stroke-width="0.55" stroke-dasharray="3.2 1.2"/><path d="M-68 198 L-57.4 206 L-57.4 216 L-68 209 Z" fill="#dcdddf" stroke="#3a3a3a" stroke-width="0.7"/><path d="M-72.4 268 C-76 270 -77.5 274 -77.5 280 L-77.5 312 C-77.5 322 -72 327 -67.8 331" fill="none" stroke="#8a8a8a" stroke-width="0.6"/><path d="M-67.8 331 C-66 343 -62 355 -52 366 C-40 375 -20 379.6 0 380.2" fill="none" stroke="#1e1e1e" stroke-width="0.55" stroke-dasharray="3.2 1.2"/><path d="M-60 300 C-60 330 -58 355 -50 368" fill="none" stroke="#1e1e1e" stroke-width="0.55" stroke-dasharray="3.2 1.2"/><path d="M-67.8 314.4 C-60 325 -50 333 -40 336.5 C-28 340.5 -12 343 0 343" fill="none" stroke="#1e1e1e" stroke-width="0.55" stroke-dasharray="3.2 1.2"/><path d="M-54 284 C-40 288 -20 290.5 0 291" fill="none" stroke="#1e1e1e" stroke-width="0.55" stroke-dasharray="3.2 1.2"/><path d="M-70 268 L-66.6 296.5 L-60 268" fill="none" stroke="#2a2a2a" stroke-width="0.8"/><path d="M-54 284 L-55 300 C-57 312 -60 318 -64 320" fill="none" stroke="#1e1e1e" stroke-width="0.55" stroke-dasharray="3.2 1.2"/><path d="M-69 118 C-78 121 -87 126 -92 132 C-92.5 134.5 -91 136 -89 136 C-83 135 -77 132 -71 128 Z" fill="#dcdddf" stroke="#3a3a3a" stroke-width="0.7"/><path d="M-91.5 133 C-85 130 -79 128 -72 124" fill="none" stroke="#2a2a2a" stroke-width="0.8"/><path d="M-48.8 172 C-48.8 167 -42.5 167 -42.5 172 L-42.5 205 C-42.5 212 -38 215.5 -32 215.5 L-21 215.5 C-17.5 215.5 -16.5 213 -16.5 208 L-16.5 172 C-16.5 167 -10.7 167 -10.7 172 L-10.7 212 C-10.7 219 -14 222.6 -20 222.6 L-36 222.6 C-44 222.6 -48.8 218 -48.8 208 Z" fill="#dcdddf" stroke="#3a3a3a" stroke-width="0.6" stroke-dasharray="7 1"/><path d="M-48.8 231 C-48.8 224 -42.5 224 -42.5 231 L-42.5 252 C-42.5 257 -44 259 -45.6 262 C-47 259 -48.8 257 -48.8 252 Z" fill="#dcdddf" stroke="#3a3a3a" stroke-width="0.6" stroke-dasharray="7 1"/><path d="M-48.8 262 L-42.5 262 C-42.5 268 -39 270.6 -33 270.6 L0.4 270.6 L0.4 280 L-36 280 C-44 280 -48.8 275 -48.8 268 Z" fill="#dcdddf" stroke="none"/><path d="M-42.5 262 C-42.5 268 -39 270.6 -33 270.6 L0 270.6 M0 280 L-36 280 C-44 280 -48.8 275 -48.8 262" fill="none" stroke="#3a3a3a" stroke-width="0.6" stroke-dasharray="7 1"/><path d="M-40 176 L-18 176 M-40 181 L-18 181 M-40 186 L-18 186 M-40 191 L-18 191 M-40 196 L-18 196 M-40 201 L-18 201 M-40 235 L-14 235 M-40 241 L-14 241 M-40 247 L-14 247 M-40 253 L-14 253" fill="none" stroke="#e4e4e4" stroke-width="0.6"/><g transform="scale(-1,1)"><path d="M0 0 C-14 0 -30 2 -40.2 8.3 L-41.5 10.6 C-50 13.6 -62 21 -68.8 29.8 C-70.6 32.5 -71.2 36 -71.3 42 L-71.6 62" fill="none" stroke="#1e1e1e" stroke-width="0.55" stroke-dasharray="3.2 1.2"/><path d="M-57 63.4 C-66 62.5 -74 66 -77.3 80" fill="none" stroke="#8a8a8a" stroke-width="0.6"/><path d="M-77.3 80 L-77.3 118 C-77.3 122 -75 124 -72.4 125 L-72.4 268" fill="none" stroke="#8a8a8a" stroke-width="0.6"/><path d="M-67.8 96 L-67.8 330" fill="none" stroke="#2a2a2a" stroke-width="0.8"/><path d="M-40.5 9 C-49 35 -58 65 -66.6 94.5" fill="none" stroke="#1e1e1e" stroke-width="0.55" stroke-dasharray="3.2 1.2"/><path d="M-66.6 94.5 C-50 80 -25 72 0 71.5" fill="none" stroke="#1e1e1e" stroke-width="0.55" stroke-dasharray="3.2 1.2"/><path d="M-66.6 94.5 C-62 115 -57 135 -54 152 C-52 165 -51 180 -51.6 200 L-51.6 262 C-52 275 -58 290 -66.6 296.5" fill="none" stroke="#2a2a2a" stroke-width="0.8"/><path d="M-64 96 C-60 115 -55 138 -51 156 C-48.5 170 -47.5 185 -47.5 200" fill="none" stroke="#666" stroke-width="0.55"/><path d="M-66.6 100 C-63 130 -59 165 -58 200 L-58 262 C-58.5 272 -62 285 -66.6 296.5" fill="none" stroke="#333" stroke-width="0.65"/><path d="M-54 152 C-40 149 -20 147.6 0 147.4" fill="none" stroke="#1e1e1e" stroke-width="0.55" stroke-dasharray="3.2 1.2"/><path d="M-68 198 L-57.4 206 L-57.4 216 L-68 209 Z" fill="#dcdddf" stroke="#3a3a3a" stroke-width="0.7"/><path d="M-72.4 268 C-76 270 -77.5 274 -77.5 280 L-77.5 312 C-77.5 322 -72 327 -67.8 331" fill="none" stroke="#8a8a8a" stroke-width="0.6"/><path d="M-67.8 331 C-66 343 -62 355 -52 366 C-40 375 -20 379.6 0 380.2" fill="none" stroke="#1e1e1e" stroke-width="0.55" stroke-dasharray="3.2 1.2"/><path d="M-60 300 C-60 330 -58 355 -50 368" fill="none" stroke="#1e1e1e" stroke-width="0.55" stroke-dasharray="3.2 1.2"/><path d="M-67.8 314.4 C-60 325 -50 333 -40 336.5 C-28 340.5 -12 343 0 343" fill="none" stroke="#1e1e1e" stroke-width="0.55" stroke-dasharray="3.2 1.2"/><path d="M-54 284 C-40 288 -20 290.5 0 291" fill="none" stroke="#1e1e1e" stroke-width="0.55" stroke-dasharray="3.2 1.2"/><path d="M-70 268 L-66.6 296.5 L-60 268" fill="none" stroke="#2a2a2a" stroke-width="0.8"/><path d="M-54 284 L-55 300 C-57 312 -60 318 -64 320" fill="none" stroke="#1e1e1e" stroke-width="0.55" stroke-dasharray="3.2 1.2"/><path d="M-69 118 C-78 121 -87 126 -92 132 C-92.5 134.5 -91 136 -89 136 C-83 135 -77 132 -71 128 Z" fill="#dcdddf" stroke="#3a3a3a" stroke-width="0.7"/><path d="M-91.5 133 C-85 130 -79 128 -72 124" fill="none" stroke="#2a2a2a" stroke-width="0.8"/><path d="M-48.8 172 C-48.8 167 -42.5 167 -42.5 172 L-42.5 205 C-42.5 212 -38 215.5 -32 215.5 L-21 215.5 C-17.5 215.5 -16.5 213 -16.5 208 L-16.5 172 C-16.5 167 -10.7 167 -10.7 172 L-10.7 212 C-10.7 219 -14 222.6 -20 222.6 L-36 222.6 C-44 222.6 -48.8 218 -48.8 208 Z" fill="#dcdddf" stroke="#3a3a3a" stroke-width="0.6" stroke-dasharray="7 1"/><path d="M-48.8 231 C-48.8 224 -42.5 224 -42.5 231 L-42.5 252 C-42.5 257 -44 259 -45.6 262 C-47 259 -48.8 257 -48.8 252 Z" fill="#dcdddf" stroke="#3a3a3a" stroke-width="0.6" stroke-dasharray="7 1"/><path d="M-48.8 262 L-42.5 262 C-42.5 268 -39 270.6 -33 270.6 L0.4 270.6 L0.4 280 L-36 280 C-44 280 -48.8 275 -48.8 268 Z" fill="#dcdddf" stroke="none"/><path d="M-42.5 262 C-42.5 268 -39 270.6 -33 270.6 L0 270.6 M0 280 L-36 280 C-44 280 -48.8 275 -48.8 262" fill="none" stroke="#3a3a3a" stroke-width="0.6" stroke-dasharray="7 1"/><path d="M-40 176 L-18 176 M-40 181 L-18 181 M-40 186 L-18 186 M-40 191 L-18 191 M-40 196 L-18 196 M-40 201 L-18 201 M-40 235 L-14 235 M-40 241 L-14 241 M-40 247 L-14 247 M-40 253 L-14 253" fill="none" stroke="#e4e4e4" stroke-width="0.6"/></g></g>
<path d="M552.5 875.5 L607.5 875.5" fill="none" stroke="#2e2e2e" stroke-width="2.4"/><path d="M552.5 875.5 L607.5 875.5" fill="none" stroke="#fff" stroke-width="1"/>
<path d="M552.5 940.5 L604.5 940.5 L604.5 897.5" fill="none" stroke="#2e2e2e" stroke-width="2.4"/><path d="M552.5 940.5 L604.5 940.5 L604.5 897.5" fill="none" stroke="#fff" stroke-width="1"/>
<path d="M552.5 982.5 L614.5 982.5 L614.5 897.5" fill="none" stroke="#2e2e2e" stroke-width="2.4"/><path d="M552.5 982.5 L614.5 982.5 L614.5 897.5" fill="none" stroke="#fff" stroke-width="1"/>
<path d="M552.5 1034.5 L618.5 1034.5 L618.5 897.5" fill="none" stroke="#2e2e2e" stroke-width="2.4"/><path d="M552.5 1034.5 L618.5 1034.5 L618.5 897.5" fill="none" stroke="#fff" stroke-width="1"/>
<path d="M715.5 875.5 L658.5 875.5" fill="none" stroke="#2e2e2e" stroke-width="2.4"/><path d="M715.5 875.5 L658.5 875.5" fill="none" stroke="#fff" stroke-width="1"/>
<path d="M715.5 940.5 L661.5 940.5 L661.5 897.5" fill="none" stroke="#2e2e2e" stroke-width="2.4"/><path d="M715.5 940.5 L661.5 940.5 L661.5 897.5" fill="none" stroke="#fff" stroke-width="1"/>
<path d="M715.5 982.5 L651.5 982.5 L651.5 897.5" fill="none" stroke="#2e2e2e" stroke-width="2.4"/><path d="M715.5 982.5 L651.5 982.5 L651.5 897.5" fill="none" stroke="#fff" stroke-width="1"/>
<path d="M715.5 1034.5 L648.5 1034.5 L648.5 897.5" fill="none" stroke="#2e2e2e" stroke-width="2.4"/><path d="M715.5 1034.5 L648.5 1034.5 L648.5 897.5" fill="none" stroke="#fff" stroke-width="1"/>
<path d="M625.39 897.28 L625.39 1057.74" stroke="#111" stroke-width="2.21" fill="none"/><path d="M625.39 1055.89 L625.39 1066.55" stroke="#444" stroke-width="3.68" fill="none"/><path d="M625.39 1066.08 L625.39 1072.02" stroke="#888" stroke-width="1.47" fill="none"/>
<path d="M640.83 897.28 L640.83 1057.74" stroke="#111" stroke-width="2.21" fill="none"/><path d="M640.83 1055.89 L640.83 1066.55" stroke="#444" stroke-width="3.68" fill="none"/><path d="M640.83 1066.08 L640.83 1072.02" stroke="#888" stroke-width="1.47" fill="none"/>
<rect x="619.63" y="818.02" width="30.51" height="22.15" fill="#fff" stroke="#222" stroke-width="0.9"/><rect x="619.63" y="818.02" width="30.51" height="4.63" fill="#777" stroke="#222" stroke-width="0.8"/><rect x="619.63" y="818.02" width="2.39" height="22.15" fill="#555" stroke="none"/><rect x="624.13" y="815.61" width="2.76" height="2.78" fill="#fff" stroke="#222" stroke-width="0.7"/><rect x="641.78" y="815.61" width="2.76" height="2.78" fill="#a33" stroke="#222" stroke-width="0.7"/>
<text x="635.8" y="812.83" text-anchor="middle" style="font-size:7.05px;fill:#222;" textLength="41.3" lengthAdjust="spacingAndGlyphs">Аккумулятор</text>
<path d="M625.33 819.5 L625.33 874.75" stroke="#111" stroke-width="1.84" fill="none"/><path d="M642.88 818.57 L642.88 844.53" stroke="#522" stroke-width="0.92" fill="none"/><path d="M642.7 849.72 L642.7 874.75" stroke="#111" stroke-width="1.56" fill="none"/><path d="M643.61 852.87 L646.74 852.87 L646.74 874.75" stroke="#666" stroke-width="0.92" fill="none"/>
<rect x="636.72" y="844.53" width="16.82" height="5.19" fill="#fff" stroke="#333" stroke-width="0.6"/><text x="645.08" y="848.8" text-anchor="middle" style="font-size:4.08px;fill:#333;">20 A</text>
<text x="654.92" y="846.94" style="font-size:5.19px;fill:#444;" textLength="45.9" lengthAdjust="spacingAndGlyphs">Дополнительный</text>
<text x="654.92" y="853.06" style="font-size:5.19px;fill:#444;" textLength="45.9" lengthAdjust="spacingAndGlyphs">предохранитель</text>
<path d="M608.97 874.75 L659.51 874.75 L667.23 878.0 L600.15 878.0 Z" fill="#fff" stroke="#222" stroke-width="0.8"/><rect x="600.15" y="878.0" width="67.09" height="19.28" fill="#fff" stroke="#222" stroke-width="1.1"/><rect x="601.52" y="879.39" width="64.33" height="14.09" fill="none" stroke="#222" stroke-width="0.6"/><circle cx="612.0" cy="886.62" r="4.26" fill="#fff" stroke="#222" stroke-width="0.8"/><rect x="616.78" y="882.45" width="38.14" height="9.73" fill="#fff" stroke="#222" stroke-width="0.8"/><rect x="657.31" y="882.91" width="5.79" height="10.20" fill="#fff" stroke="#222" stroke-width="0.8"/><path d="M602.08 895.52 L665.49 895.52" stroke="#222" stroke-width="2.39" stroke-dasharray="2.04 1.39" fill="none"/>
<rect x="593.32" y="1072.02" width="78.29" height="29.29" fill="#fff" stroke="#222" stroke-width="1"/><path d="M593.32 1076.74 L671.61 1076.74 M593.32 1097.23 L671.61 1097.23" stroke="#222" stroke-width="0.8" fill="none"/><text x="632.46" y="1090.19" text-anchor="middle" style="font-size:11.49px;fill:#222;" textLength="53.8" lengthAdjust="spacingAndGlyphs">Усилитель</text>
<g transform="translate(548.0 875.8) rotate(0) scale(1.0 1.0)" fill="#fff" stroke="#111"><path d="M-2 -8.3 C-6.655 -8.715000000000002 -12.1 -6.640000000000001 -12.1 0 C-12.1 6.640000000000001 -6.655 8.715000000000002 -2 8.3 Z" stroke-width="1.45"/><ellipse cx="-7.02" cy="0" rx="1.80" ry="7.47" stroke-width="1.2" fill="none"/><ellipse cx="0" cy="0" rx="4.9" ry="11.6" stroke-width="1.8"/><ellipse cx="0.3" cy="0" rx="2.74" ry="5.57" stroke-width="2.2"/></g>
<text x="530" y="874.8" text-anchor="end" class="lb" style="font-size:9.2px;" textLength="31.5" lengthAdjust="spacingAndGlyphs">Канал 1</text>
<text x="530.6" y="885.0" text-anchor="end" class="lb" style="font-size:9.2px;" textLength="34.1" lengthAdjust="spacingAndGlyphs">(твитер)</text>
<g transform="translate(544.9 940.4) rotate(0) scale(1.0 1.0)" fill="#fff" stroke="#111"><path d="M-2 -9.5 C-9.350000000000001 -9.975 -17.0 -7.6000000000000005 -17.0 0 C-17.0 7.6000000000000005 -9.350000000000001 9.975 -2 9.5 Z" stroke-width="1.45"/><ellipse cx="-9.86" cy="0" rx="1.80" ry="8.55" stroke-width="1.2" fill="none"/><ellipse cx="-6.12" cy="0" rx="2.4" ry="10.64" stroke-width="1.5" fill="#2a2a2a"/><ellipse cx="0" cy="0" rx="8.0" ry="18.8" stroke-width="1.50"/><ellipse cx="0.2" cy="0" rx="6.40" ry="16.73" stroke-width="0.90" fill="none"/><ellipse cx="0.5" cy="0" rx="5.04" ry="14.48" stroke-width="1.20" fill="none"/><ellipse cx="1.0" cy="0" rx="3.60" ry="11.28" stroke-width="0.82" fill="none"/><path d="M-2.40 -7.14 C4.80 -7.14 4.80 7.14 -2.40 7.14" stroke-width="0.90" fill="none"/></g>
<text x="522.5" y="939.8" text-anchor="end" class="lb" style="font-size:9.2px;" textLength="31.5" lengthAdjust="spacingAndGlyphs">Канал 3</text>
<text x="523.1" y="950.0" text-anchor="end" class="lb" style="font-size:9.2px;" textLength="58.2" lengthAdjust="spacingAndGlyphs">(СЧ-динамик)</text>
<g transform="translate(543.0 982.5) rotate(0) scale(1.0 1.0)" fill="#fff" stroke="#111"><path d="M-2 -11.0 C-11.825000000000001 -11.55 -21.5 -8.8 -21.5 0 C-21.5 8.8 -11.825000000000001 11.55 -2 11.0 Z" stroke-width="1.45"/><ellipse cx="-12.47" cy="0" rx="2.18" ry="9.90" stroke-width="1.2" fill="none"/><ellipse cx="-7.739999999999999" cy="0" rx="2.97" ry="12.32" stroke-width="1.5" fill="#2a2a2a"/><ellipse cx="0" cy="0" rx="9.9" ry="21.0" stroke-width="1.64"/><ellipse cx="0.2" cy="0" rx="7.92" ry="18.69" stroke-width="0.98" fill="none"/><ellipse cx="0.5" cy="0" rx="6.24" ry="16.17" stroke-width="1.31" fill="none"/><ellipse cx="1.0" cy="0" rx="4.46" ry="12.60" stroke-width="0.90" fill="none"/><path d="M-2.97 -7.98 C5.94 -7.98 5.94 7.98 -2.97 7.98" stroke-width="0.98" fill="none"/></g>
<text x="515.5" y="982.5" text-anchor="end" class="lb" style="font-size:9.2px;" textLength="31.5" lengthAdjust="spacingAndGlyphs">Канал 5</text>
<text x="516.1" y="992.7" text-anchor="end" class="lb" style="font-size:9.2px;" textLength="36.7" lengthAdjust="spacingAndGlyphs">(мидбас)</text>
<g transform="translate(543.0 1034.4) rotate(0) scale(1.0 1.0)" fill="#fff" stroke="#111"><path d="M-2 -11.0 C-11.330000000000002 -11.55 -20.6 -8.8 -20.6 0 C-20.6 8.8 -11.330000000000002 11.55 -2 11.0 Z" stroke-width="1.45"/><ellipse cx="-11.95" cy="0" rx="2.18" ry="9.90" stroke-width="1.2" fill="none"/><ellipse cx="-7.416" cy="0" rx="2.97" ry="12.32" stroke-width="1.5" fill="#2a2a2a"/><ellipse cx="0" cy="0" rx="9.9" ry="21.5" stroke-width="1.67"/><ellipse cx="0.2" cy="0" rx="7.92" ry="19.14" stroke-width="1.00" fill="none"/><ellipse cx="0.5" cy="0" rx="6.24" ry="16.55" stroke-width="1.33" fill="none"/><ellipse cx="1.0" cy="0" rx="4.46" ry="12.90" stroke-width="0.92" fill="none"/><ellipse cx="0.2" cy="0" rx="2.18" ry="4.30" stroke-width="1.6" fill="#3a3a3a"/></g>
<text x="516.5" y="1030" text-anchor="end" class="lb" style="font-size:9.2px;" textLength="31.5" lengthAdjust="spacingAndGlyphs">Канал 7</text>
<text x="517.1" y="1040.2" text-anchor="end" class="lb" style="font-size:9.2px;" textLength="67.6" lengthAdjust="spacingAndGlyphs">(коаксиальный)</text>
<g transform="translate(719.9 875.8) rotate(0) scale(-1.0 1.0)" fill="#fff" stroke="#111"><path d="M-2 -8.3 C-6.655 -8.715000000000002 -12.1 -6.640000000000001 -12.1 0 C-12.1 6.640000000000001 -6.655 8.715000000000002 -2 8.3 Z" stroke-width="1.45"/><ellipse cx="-7.02" cy="0" rx="1.80" ry="7.47" stroke-width="1.2" fill="none"/><ellipse cx="0" cy="0" rx="4.9" ry="11.6" stroke-width="1.8"/><ellipse cx="0.3" cy="0" rx="2.74" ry="5.57" stroke-width="2.2"/></g>
<text x="736.5" y="874.8" class="lb" style="font-size:9.2px;" textLength="31.5" lengthAdjust="spacingAndGlyphs">Канал 2</text>
<text x="736.5" y="885.0" class="lb" style="font-size:9.2px;" textLength="34.1" lengthAdjust="spacingAndGlyphs">(твитер)</text>
<g transform="translate(723.0 940.4) rotate(0) scale(-1.0 1.0)" fill="#fff" stroke="#111"><path d="M-2 -9.5 C-9.350000000000001 -9.975 -17.0 -7.6000000000000005 -17.0 0 C-17.0 7.6000000000000005 -9.350000000000001 9.975 -2 9.5 Z" stroke-width="1.45"/><ellipse cx="-9.86" cy="0" rx="1.80" ry="8.55" stroke-width="1.2" fill="none"/><ellipse cx="-6.12" cy="0" rx="2.4" ry="10.64" stroke-width="1.5" fill="#2a2a2a"/><ellipse cx="0" cy="0" rx="8.0" ry="18.8" stroke-width="1.50"/><ellipse cx="0.2" cy="0" rx="6.40" ry="16.73" stroke-width="0.90" fill="none"/><ellipse cx="0.5" cy="0" rx="5.04" ry="14.48" stroke-width="1.20" fill="none"/><ellipse cx="1.0" cy="0" rx="3.60" ry="11.28" stroke-width="0.82" fill="none"/><path d="M-2.40 -7.14 C4.80 -7.14 4.80 7.14 -2.40 7.14" stroke-width="0.90" fill="none"/></g>
<text x="745" y="939.8" class="lb" style="font-size:9.2px;" textLength="31.5" lengthAdjust="spacingAndGlyphs">Канал 4</text>
<text x="745" y="950.0" class="lb" style="font-size:9.2px;" textLength="58.2" lengthAdjust="spacingAndGlyphs">(СЧ-динамик)</text>
<g transform="translate(724.9 982.5) rotate(0) scale(-1.0 1.0)" fill="#fff" stroke="#111"><path d="M-2 -11.0 C-11.825000000000001 -11.55 -21.5 -8.8 -21.5 0 C-21.5 8.8 -11.825000000000001 11.55 -2 11.0 Z" stroke-width="1.45"/><ellipse cx="-12.47" cy="0" rx="2.18" ry="9.90" stroke-width="1.2" fill="none"/><ellipse cx="-7.739999999999999" cy="0" rx="2.97" ry="12.32" stroke-width="1.5" fill="#2a2a2a"/><ellipse cx="0" cy="0" rx="9.9" ry="21.0" stroke-width="1.64"/><ellipse cx="0.2" cy="0" rx="7.92" ry="18.69" stroke-width="0.98" fill="none"/><ellipse cx="0.5" cy="0" rx="6.24" ry="16.17" stroke-width="1.31" fill="none"/><ellipse cx="1.0" cy="0" rx="4.46" ry="12.60" stroke-width="0.90" fill="none"/><path d="M-2.97 -7.98 C5.94 -7.98 5.94 7.98 -2.97 7.98" stroke-width="0.98" fill="none"/></g>
<text x="750.5" y="982.5" class="lb" style="font-size:9.2px;" textLength="31.5" lengthAdjust="spacingAndGlyphs">Канал 6</text>
<text x="750.5" y="992.7" class="lb" style="font-size:9.2px;" textLength="36.7" lengthAdjust="spacingAndGlyphs">(мидбас)</text>
<g transform="translate(724.9 1034.4) rotate(0) scale(-1.0 1.0)" fill="#fff" stroke="#111"><path d="M-2 -11.0 C-11.330000000000002 -11.55 -20.6 -8.8 -20.6 0 C-20.6 8.8 -11.330000000000002 11.55 -2 11.0 Z" stroke-width="1.45"/><ellipse cx="-11.95" cy="0" rx="2.18" ry="9.90" stroke-width="1.2" fill="none"/><ellipse cx="-7.416" cy="0" rx="2.97" ry="12.32" stroke-width="1.5" fill="#2a2a2a"/><ellipse cx="0" cy="0" rx="9.9" ry="21.5" stroke-width="1.67"/><ellipse cx="0.2" cy="0" rx="7.92" ry="19.14" stroke-width="1.00" fill="none"/><ellipse cx="0.5" cy="0" rx="6.24" ry="16.55" stroke-width="1.33" fill="none"/><ellipse cx="1.0" cy="0" rx="4.46" ry="12.90" stroke-width="0.92" fill="none"/><ellipse cx="0.2" cy="0" rx="2.18" ry="4.30" stroke-width="1.6" fill="#3a3a3a"/></g>
<text x="750.5" y="1030" class="lb" style="font-size:9.2px;" textLength="31.5" lengthAdjust="spacingAndGlyphs">Канал 8</text>
<text x="750.5" y="1040.2" class="lb" style="font-size:9.2px;" textLength="67.6" lengthAdjust="spacingAndGlyphs">(коаксиальный)</text>
<path d="M632.5 1101.5 L632.5 1157.5" fill="none" stroke="#2e2e2e" stroke-width="2.4"/><path d="M632.5 1101.5 L632.5 1157.5" fill="none" stroke="#fff" stroke-width="1"/>
<g transform="translate(631.18 1165.5) rotate(-90) scale(0.9 0.9)" fill="#fff" stroke="#111"><path d="M-27.799999999999997 -14.0 C-34.0 -14.0 -34.0 14.0 -27.799999999999997 14.0 L-17.799999999999997 14.0 L-17.799999999999997 -14.0 Z" stroke-width="1.3"/><ellipse cx="-23.799999999999997" cy="0" rx="2.6" ry="14.0" stroke-width="1.7" fill="none"/><ellipse cx="-18.299999999999997" cy="0" rx="2.6" ry="13.7" stroke-width="1.1"/><path d="M-17.799999999999997 -13.5 C-12.799999999999997 -16.0 -8 -20.09 -3 -26.691000000000003 L-3 26.691000000000003 C-8 20.09 -12.799999999999997 16.0 -17.799999999999997 13.5 Z" stroke-width="1.4"/><path d="M-15.799999999999997 -12.5 L-10.299999999999997 -16.0 L-10.299999999999997 16.0 L-15.799999999999997 12.5 Z" stroke="none" fill="#1c1c1c"/><rect x="-14.999999999999996" y="-6.6" width="4" height="3.7" stroke="none" fill="#fff"/><rect x="-14.999999999999996" y="-1.6" width="4" height="3.2" stroke="none" fill="#fff"/><rect x="-14.999999999999996" y="2.9" width="4" height="3.7" stroke="none" fill="#fff"/><ellipse cx="-5.5" cy="0" rx="6.013999999999999" ry="24.107999999999997" stroke-width="1.5" fill="#fff"/><ellipse cx="0" cy="0" rx="9.7" ry="28.7" stroke-width="2.10"/><ellipse cx="0.2" cy="0" rx="7.76" ry="25.54" stroke-width="1.26" fill="none"/><ellipse cx="0.5" cy="0" rx="6.11" ry="22.10" stroke-width="1.68" fill="none"/><ellipse cx="1.0" cy="0" rx="4.37" ry="17.22" stroke-width="1.16" fill="none"/><path d="M-2.91 -10.91 C5.82 -10.91 5.82 10.91 -2.91 10.91" stroke-width="1.26" fill="none"/></g>
<text x="663.5" y="1172.5" class="lb" style="font-size:9.2px;" textLength="51.2" lengthAdjust="spacingAndGlyphs">Каналы 9/10</text>
<text x="662.8" y="1183" class="lb" style="font-size:9.2px;" textLength="77.1" lengthAdjust="spacingAndGlyphs">(сабвуфер с одной</text>
<text x="663.5" y="1193.5" class="lb" style="font-size:9.2px;" textLength="96.3" lengthAdjust="spacingAndGlyphs">или двумя обмотками)</text>
</svg>
</body></html>
